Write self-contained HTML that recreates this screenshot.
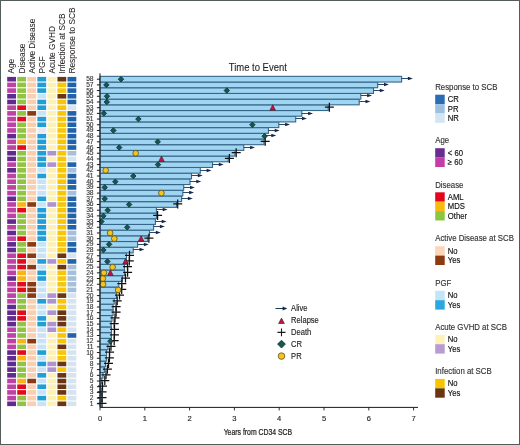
<!DOCTYPE html>
<html><head><meta charset="utf-8"><title>Time to Event</title>
<style>html,body{margin:0;padding:0;background:#fff;}body{width:520px;height:445px;overflow:hidden;font-family:"Liberation Sans",sans-serif;}svg{display:block;will-change:transform;}</style>
</head><body>
<svg width="520" height="445" viewBox="0 0 520 445">
<rect x="0" y="0" width="520" height="445" fill="#ffffff"/>
<rect x="7.20" y="401.51" width="8.8" height="4.6" fill="#62298e"/>
<rect x="17.25" y="401.51" width="8.8" height="4.6" fill="#92c443"/>
<rect x="27.30" y="401.51" width="8.8" height="4.6" fill="#f9cfb2"/>
<rect x="37.35" y="401.51" width="8.8" height="4.6" fill="#c8e3f5"/>
<rect x="47.40" y="401.51" width="8.8" height="4.6" fill="#fcf2b8"/>
<rect x="57.45" y="401.51" width="8.8" height="4.6" fill="#6a3512"/>
<rect x="67.50" y="401.51" width="8.8" height="4.6" fill="#d6e4f1"/>
<rect x="7.20" y="395.82" width="8.8" height="4.6" fill="#bd42a3"/>
<rect x="17.25" y="395.82" width="8.8" height="4.6" fill="#92c443"/>
<rect x="27.30" y="395.82" width="8.8" height="4.6" fill="#f9cfb2"/>
<rect x="37.35" y="395.82" width="8.8" height="4.6" fill="#229dd6"/>
<rect x="47.40" y="395.82" width="8.8" height="4.6" fill="#fcf2b8"/>
<rect x="57.45" y="395.82" width="8.8" height="4.6" fill="#f7c608"/>
<rect x="67.50" y="395.82" width="8.8" height="4.6" fill="#d6e4f1"/>
<rect x="7.20" y="390.12" width="8.8" height="4.6" fill="#bd42a3"/>
<rect x="17.25" y="390.12" width="8.8" height="4.6" fill="#e20a1c"/>
<rect x="27.30" y="390.12" width="8.8" height="4.6" fill="#f9cfb2"/>
<rect x="37.35" y="390.12" width="8.8" height="4.6" fill="#c8e3f5"/>
<rect x="47.40" y="390.12" width="8.8" height="4.6" fill="#fcf2b8"/>
<rect x="57.45" y="390.12" width="8.8" height="4.6" fill="#6a3512"/>
<rect x="67.50" y="390.12" width="8.8" height="4.6" fill="#d6e4f1"/>
<rect x="7.20" y="384.43" width="8.8" height="4.6" fill="#bd42a3"/>
<rect x="17.25" y="384.43" width="8.8" height="4.6" fill="#e20a1c"/>
<rect x="27.30" y="384.43" width="8.8" height="4.6" fill="#f9cfb2"/>
<rect x="37.35" y="384.43" width="8.8" height="4.6" fill="#229dd6"/>
<rect x="47.40" y="384.43" width="8.8" height="4.6" fill="#fcf2b8"/>
<rect x="57.45" y="384.43" width="8.8" height="4.6" fill="#6a3512"/>
<rect x="67.50" y="384.43" width="8.8" height="4.6" fill="#d6e4f1"/>
<rect x="7.20" y="378.74" width="8.8" height="4.6" fill="#bd42a3"/>
<rect x="17.25" y="378.74" width="8.8" height="4.6" fill="#fab514"/>
<rect x="27.30" y="378.74" width="8.8" height="4.6" fill="#8a3a12"/>
<rect x="37.35" y="378.74" width="8.8" height="4.6" fill="#c8e3f5"/>
<rect x="47.40" y="378.74" width="8.8" height="4.6" fill="#fcf2b8"/>
<rect x="57.45" y="378.74" width="8.8" height="4.6" fill="#6a3512"/>
<rect x="67.50" y="378.74" width="8.8" height="4.6" fill="#d6e4f1"/>
<rect x="7.20" y="373.04" width="8.8" height="4.6" fill="#62298e"/>
<rect x="17.25" y="373.04" width="8.8" height="4.6" fill="#92c443"/>
<rect x="27.30" y="373.04" width="8.8" height="4.6" fill="#f9cfb2"/>
<rect x="37.35" y="373.04" width="8.8" height="4.6" fill="#229dd6"/>
<rect x="47.40" y="373.04" width="8.8" height="4.6" fill="#fcf2b8"/>
<rect x="57.45" y="373.04" width="8.8" height="4.6" fill="#6a3512"/>
<rect x="67.50" y="373.04" width="8.8" height="4.6" fill="#d6e4f1"/>
<rect x="7.20" y="367.34" width="8.8" height="4.6" fill="#62298e"/>
<rect x="17.25" y="367.34" width="8.8" height="4.6" fill="#92c443"/>
<rect x="27.30" y="367.34" width="8.8" height="4.6" fill="#f9cfb2"/>
<rect x="37.35" y="367.34" width="8.8" height="4.6" fill="#c8e3f5"/>
<rect x="47.40" y="367.34" width="8.8" height="4.6" fill="#ad94d0"/>
<rect x="57.45" y="367.34" width="8.8" height="4.6" fill="#f7c608"/>
<rect x="67.50" y="367.34" width="8.8" height="4.6" fill="#d6e4f1"/>
<rect x="7.20" y="361.65" width="8.8" height="4.6" fill="#62298e"/>
<rect x="17.25" y="361.65" width="8.8" height="4.6" fill="#92c443"/>
<rect x="27.30" y="361.65" width="8.8" height="4.6" fill="#f9cfb2"/>
<rect x="37.35" y="361.65" width="8.8" height="4.6" fill="#229dd6"/>
<rect x="47.40" y="361.65" width="8.8" height="4.6" fill="#ad94d0"/>
<rect x="57.45" y="361.65" width="8.8" height="4.6" fill="#6a3512"/>
<rect x="67.50" y="361.65" width="8.8" height="4.6" fill="#d6e4f1"/>
<rect x="7.20" y="355.95" width="8.8" height="4.6" fill="#62298e"/>
<rect x="17.25" y="355.95" width="8.8" height="4.6" fill="#fab514"/>
<rect x="27.30" y="355.95" width="8.8" height="4.6" fill="#f9cfb2"/>
<rect x="37.35" y="355.95" width="8.8" height="4.6" fill="#c8e3f5"/>
<rect x="47.40" y="355.95" width="8.8" height="4.6" fill="#fcf2b8"/>
<rect x="57.45" y="355.95" width="8.8" height="4.6" fill="#f7c608"/>
<rect x="67.50" y="355.95" width="8.8" height="4.6" fill="#d6e4f1"/>
<rect x="7.20" y="350.26" width="8.8" height="4.6" fill="#62298e"/>
<rect x="17.25" y="350.26" width="8.8" height="4.6" fill="#e20a1c"/>
<rect x="27.30" y="350.26" width="8.8" height="4.6" fill="#f9cfb2"/>
<rect x="37.35" y="350.26" width="8.8" height="4.6" fill="#229dd6"/>
<rect x="47.40" y="350.26" width="8.8" height="4.6" fill="#fcf2b8"/>
<rect x="57.45" y="350.26" width="8.8" height="4.6" fill="#f7c608"/>
<rect x="67.50" y="350.26" width="8.8" height="4.6" fill="#d6e4f1"/>
<rect x="7.20" y="344.56" width="8.8" height="4.6" fill="#bd42a3"/>
<rect x="17.25" y="344.56" width="8.8" height="4.6" fill="#92c443"/>
<rect x="27.30" y="344.56" width="8.8" height="4.6" fill="#f9cfb2"/>
<rect x="37.35" y="344.56" width="8.8" height="4.6" fill="#c8e3f5"/>
<rect x="47.40" y="344.56" width="8.8" height="4.6" fill="#fcf2b8"/>
<rect x="57.45" y="344.56" width="8.8" height="4.6" fill="#6a3512"/>
<rect x="67.50" y="344.56" width="8.8" height="4.6" fill="#d6e4f1"/>
<rect x="7.20" y="338.87" width="8.8" height="4.6" fill="#bd42a3"/>
<rect x="17.25" y="338.87" width="8.8" height="4.6" fill="#fab514"/>
<rect x="27.30" y="338.87" width="8.8" height="4.6" fill="#8a3a12"/>
<rect x="37.35" y="338.87" width="8.8" height="4.6" fill="#c8e3f5"/>
<rect x="47.40" y="338.87" width="8.8" height="4.6" fill="#fcf2b8"/>
<rect x="57.45" y="338.87" width="8.8" height="4.6" fill="#f7c608"/>
<rect x="67.50" y="338.87" width="8.8" height="4.6" fill="#d6e4f1"/>
<rect x="7.20" y="333.18" width="8.8" height="4.6" fill="#bd42a3"/>
<rect x="17.25" y="333.18" width="8.8" height="4.6" fill="#92c443"/>
<rect x="27.30" y="333.18" width="8.8" height="4.6" fill="#f9cfb2"/>
<rect x="37.35" y="333.18" width="8.8" height="4.6" fill="#c8e3f5"/>
<rect x="47.40" y="333.18" width="8.8" height="4.6" fill="#fcf2b8"/>
<rect x="57.45" y="333.18" width="8.8" height="4.6" fill="#f7c608"/>
<rect x="67.50" y="333.18" width="8.8" height="4.6" fill="#2163aa"/>
<rect x="7.20" y="327.48" width="8.8" height="4.6" fill="#bd42a3"/>
<rect x="17.25" y="327.48" width="8.8" height="4.6" fill="#92c443"/>
<rect x="27.30" y="327.48" width="8.8" height="4.6" fill="#f9cfb2"/>
<rect x="37.35" y="327.48" width="8.8" height="4.6" fill="#c8e3f5"/>
<rect x="47.40" y="327.48" width="8.8" height="4.6" fill="#ad94d0"/>
<rect x="57.45" y="327.48" width="8.8" height="4.6" fill="#f7c608"/>
<rect x="67.50" y="327.48" width="8.8" height="4.6" fill="#d6e4f1"/>
<rect x="7.20" y="321.79" width="8.8" height="4.6" fill="#62298e"/>
<rect x="17.25" y="321.79" width="8.8" height="4.6" fill="#92c443"/>
<rect x="27.30" y="321.79" width="8.8" height="4.6" fill="#f9cfb2"/>
<rect x="37.35" y="321.79" width="8.8" height="4.6" fill="#229dd6"/>
<rect x="47.40" y="321.79" width="8.8" height="4.6" fill="#ad94d0"/>
<rect x="57.45" y="321.79" width="8.8" height="4.6" fill="#6a3512"/>
<rect x="67.50" y="321.79" width="8.8" height="4.6" fill="#d6e4f1"/>
<rect x="7.20" y="316.09" width="8.8" height="4.6" fill="#62298e"/>
<rect x="17.25" y="316.09" width="8.8" height="4.6" fill="#e20a1c"/>
<rect x="27.30" y="316.09" width="8.8" height="4.6" fill="#f9cfb2"/>
<rect x="37.35" y="316.09" width="8.8" height="4.6" fill="#229dd6"/>
<rect x="47.40" y="316.09" width="8.8" height="4.6" fill="#fcf2b8"/>
<rect x="57.45" y="316.09" width="8.8" height="4.6" fill="#6a3512"/>
<rect x="67.50" y="316.09" width="8.8" height="4.6" fill="#d6e4f1"/>
<rect x="7.20" y="310.39" width="8.8" height="4.6" fill="#62298e"/>
<rect x="17.25" y="310.39" width="8.8" height="4.6" fill="#e20a1c"/>
<rect x="27.30" y="310.39" width="8.8" height="4.6" fill="#f9cfb2"/>
<rect x="37.35" y="310.39" width="8.8" height="4.6" fill="#c8e3f5"/>
<rect x="47.40" y="310.39" width="8.8" height="4.6" fill="#ad94d0"/>
<rect x="57.45" y="310.39" width="8.8" height="4.6" fill="#6a3512"/>
<rect x="67.50" y="310.39" width="8.8" height="4.6" fill="#d6e4f1"/>
<rect x="7.20" y="304.70" width="8.8" height="4.6" fill="#62298e"/>
<rect x="17.25" y="304.70" width="8.8" height="4.6" fill="#92c443"/>
<rect x="27.30" y="304.70" width="8.8" height="4.6" fill="#f9cfb2"/>
<rect x="37.35" y="304.70" width="8.8" height="4.6" fill="#c8e3f5"/>
<rect x="47.40" y="304.70" width="8.8" height="4.6" fill="#fcf2b8"/>
<rect x="57.45" y="304.70" width="8.8" height="4.6" fill="#f7c608"/>
<rect x="67.50" y="304.70" width="8.8" height="4.6" fill="#d6e4f1"/>
<rect x="7.20" y="299.00" width="8.8" height="4.6" fill="#bd42a3"/>
<rect x="17.25" y="299.00" width="8.8" height="4.6" fill="#92c443"/>
<rect x="27.30" y="299.00" width="8.8" height="4.6" fill="#f9cfb2"/>
<rect x="37.35" y="299.00" width="8.8" height="4.6" fill="#229dd6"/>
<rect x="47.40" y="299.00" width="8.8" height="4.6" fill="#ad94d0"/>
<rect x="57.45" y="299.00" width="8.8" height="4.6" fill="#f7c608"/>
<rect x="67.50" y="299.00" width="8.8" height="4.6" fill="#d6e4f1"/>
<rect x="7.20" y="293.31" width="8.8" height="4.6" fill="#bd42a3"/>
<rect x="17.25" y="293.31" width="8.8" height="4.6" fill="#92c443"/>
<rect x="27.30" y="293.31" width="8.8" height="4.6" fill="#8a3a12"/>
<rect x="37.35" y="293.31" width="8.8" height="4.6" fill="#c8e3f5"/>
<rect x="47.40" y="293.31" width="8.8" height="4.6" fill="#ad94d0"/>
<rect x="57.45" y="293.31" width="8.8" height="4.6" fill="#6a3512"/>
<rect x="67.50" y="293.31" width="8.8" height="4.6" fill="#d6e4f1"/>
<rect x="7.20" y="287.62" width="8.8" height="4.6" fill="#bd42a3"/>
<rect x="17.25" y="287.62" width="8.8" height="4.6" fill="#e20a1c"/>
<rect x="27.30" y="287.62" width="8.8" height="4.6" fill="#8a3a12"/>
<rect x="37.35" y="287.62" width="8.8" height="4.6" fill="#c8e3f5"/>
<rect x="47.40" y="287.62" width="8.8" height="4.6" fill="#fcf2b8"/>
<rect x="57.45" y="287.62" width="8.8" height="4.6" fill="#f7c608"/>
<rect x="67.50" y="287.62" width="8.8" height="4.6" fill="#a6bfda"/>
<rect x="7.20" y="281.92" width="8.8" height="4.6" fill="#bd42a3"/>
<rect x="17.25" y="281.92" width="8.8" height="4.6" fill="#e20a1c"/>
<rect x="27.30" y="281.92" width="8.8" height="4.6" fill="#8a3a12"/>
<rect x="37.35" y="281.92" width="8.8" height="4.6" fill="#c8e3f5"/>
<rect x="47.40" y="281.92" width="8.8" height="4.6" fill="#fcf2b8"/>
<rect x="57.45" y="281.92" width="8.8" height="4.6" fill="#f7c608"/>
<rect x="67.50" y="281.92" width="8.8" height="4.6" fill="#a6bfda"/>
<rect x="7.20" y="276.23" width="8.8" height="4.6" fill="#62298e"/>
<rect x="17.25" y="276.23" width="8.8" height="4.6" fill="#fab514"/>
<rect x="27.30" y="276.23" width="8.8" height="4.6" fill="#f9cfb2"/>
<rect x="37.35" y="276.23" width="8.8" height="4.6" fill="#229dd6"/>
<rect x="47.40" y="276.23" width="8.8" height="4.6" fill="#fcf2b8"/>
<rect x="57.45" y="276.23" width="8.8" height="4.6" fill="#f7c608"/>
<rect x="67.50" y="276.23" width="8.8" height="4.6" fill="#a6bfda"/>
<rect x="7.20" y="270.53" width="8.8" height="4.6" fill="#bd42a3"/>
<rect x="17.25" y="270.53" width="8.8" height="4.6" fill="#fab514"/>
<rect x="27.30" y="270.53" width="8.8" height="4.6" fill="#f9cfb2"/>
<rect x="37.35" y="270.53" width="8.8" height="4.6" fill="#229dd6"/>
<rect x="47.40" y="270.53" width="8.8" height="4.6" fill="#fcf2b8"/>
<rect x="57.45" y="270.53" width="8.8" height="4.6" fill="#f7c608"/>
<rect x="67.50" y="270.53" width="8.8" height="4.6" fill="#a6bfda"/>
<rect x="7.20" y="264.83" width="8.8" height="4.6" fill="#bd42a3"/>
<rect x="17.25" y="264.83" width="8.8" height="4.6" fill="#e20a1c"/>
<rect x="27.30" y="264.83" width="8.8" height="4.6" fill="#8a3a12"/>
<rect x="37.35" y="264.83" width="8.8" height="4.6" fill="#c8e3f5"/>
<rect x="47.40" y="264.83" width="8.8" height="4.6" fill="#fcf2b8"/>
<rect x="57.45" y="264.83" width="8.8" height="4.6" fill="#6a3512"/>
<rect x="67.50" y="264.83" width="8.8" height="4.6" fill="#a6bfda"/>
<rect x="7.20" y="259.14" width="8.8" height="4.6" fill="#bd42a3"/>
<rect x="17.25" y="259.14" width="8.8" height="4.6" fill="#e20a1c"/>
<rect x="27.30" y="259.14" width="8.8" height="4.6" fill="#f9cfb2"/>
<rect x="37.35" y="259.14" width="8.8" height="4.6" fill="#229dd6"/>
<rect x="47.40" y="259.14" width="8.8" height="4.6" fill="#ad94d0"/>
<rect x="57.45" y="259.14" width="8.8" height="4.6" fill="#f7c608"/>
<rect x="67.50" y="259.14" width="8.8" height="4.6" fill="#2163aa"/>
<rect x="7.20" y="253.44" width="8.8" height="4.6" fill="#bd42a3"/>
<rect x="17.25" y="253.44" width="8.8" height="4.6" fill="#e20a1c"/>
<rect x="27.30" y="253.44" width="8.8" height="4.6" fill="#8a3a12"/>
<rect x="37.35" y="253.44" width="8.8" height="4.6" fill="#c8e3f5"/>
<rect x="47.40" y="253.44" width="8.8" height="4.6" fill="#fcf2b8"/>
<rect x="57.45" y="253.44" width="8.8" height="4.6" fill="#6a3512"/>
<rect x="67.50" y="253.44" width="8.8" height="4.6" fill="#d6e4f1"/>
<rect x="7.20" y="247.75" width="8.8" height="4.6" fill="#62298e"/>
<rect x="17.25" y="247.75" width="8.8" height="4.6" fill="#92c443"/>
<rect x="27.30" y="247.75" width="8.8" height="4.6" fill="#f9cfb2"/>
<rect x="37.35" y="247.75" width="8.8" height="4.6" fill="#c8e3f5"/>
<rect x="47.40" y="247.75" width="8.8" height="4.6" fill="#fcf2b8"/>
<rect x="57.45" y="247.75" width="8.8" height="4.6" fill="#f7c608"/>
<rect x="67.50" y="247.75" width="8.8" height="4.6" fill="#2163aa"/>
<rect x="7.20" y="242.06" width="8.8" height="4.6" fill="#62298e"/>
<rect x="17.25" y="242.06" width="8.8" height="4.6" fill="#92c443"/>
<rect x="27.30" y="242.06" width="8.8" height="4.6" fill="#8a3a12"/>
<rect x="37.35" y="242.06" width="8.8" height="4.6" fill="#c8e3f5"/>
<rect x="47.40" y="242.06" width="8.8" height="4.6" fill="#fcf2b8"/>
<rect x="57.45" y="242.06" width="8.8" height="4.6" fill="#f7c608"/>
<rect x="67.50" y="242.06" width="8.8" height="4.6" fill="#2163aa"/>
<rect x="7.20" y="236.36" width="8.8" height="4.6" fill="#bd42a3"/>
<rect x="17.25" y="236.36" width="8.8" height="4.6" fill="#e20a1c"/>
<rect x="27.30" y="236.36" width="8.8" height="4.6" fill="#f9cfb2"/>
<rect x="37.35" y="236.36" width="8.8" height="4.6" fill="#229dd6"/>
<rect x="47.40" y="236.36" width="8.8" height="4.6" fill="#fcf2b8"/>
<rect x="57.45" y="236.36" width="8.8" height="4.6" fill="#f7c608"/>
<rect x="67.50" y="236.36" width="8.8" height="4.6" fill="#a6bfda"/>
<rect x="7.20" y="230.67" width="8.8" height="4.6" fill="#62298e"/>
<rect x="17.25" y="230.67" width="8.8" height="4.6" fill="#92c443"/>
<rect x="27.30" y="230.67" width="8.8" height="4.6" fill="#f9cfb2"/>
<rect x="37.35" y="230.67" width="8.8" height="4.6" fill="#229dd6"/>
<rect x="47.40" y="230.67" width="8.8" height="4.6" fill="#fcf2b8"/>
<rect x="57.45" y="230.67" width="8.8" height="4.6" fill="#f7c608"/>
<rect x="67.50" y="230.67" width="8.8" height="4.6" fill="#a6bfda"/>
<rect x="7.20" y="224.97" width="8.8" height="4.6" fill="#bd42a3"/>
<rect x="17.25" y="224.97" width="8.8" height="4.6" fill="#92c443"/>
<rect x="27.30" y="224.97" width="8.8" height="4.6" fill="#f9cfb2"/>
<rect x="37.35" y="224.97" width="8.8" height="4.6" fill="#229dd6"/>
<rect x="47.40" y="224.97" width="8.8" height="4.6" fill="#fcf2b8"/>
<rect x="57.45" y="224.97" width="8.8" height="4.6" fill="#f7c608"/>
<rect x="67.50" y="224.97" width="8.8" height="4.6" fill="#2163aa"/>
<rect x="7.20" y="219.27" width="8.8" height="4.6" fill="#62298e"/>
<rect x="17.25" y="219.27" width="8.8" height="4.6" fill="#92c443"/>
<rect x="27.30" y="219.27" width="8.8" height="4.6" fill="#f9cfb2"/>
<rect x="37.35" y="219.27" width="8.8" height="4.6" fill="#229dd6"/>
<rect x="47.40" y="219.27" width="8.8" height="4.6" fill="#fcf2b8"/>
<rect x="57.45" y="219.27" width="8.8" height="4.6" fill="#f7c608"/>
<rect x="67.50" y="219.27" width="8.8" height="4.6" fill="#2163aa"/>
<rect x="7.20" y="213.58" width="8.8" height="4.6" fill="#bd42a3"/>
<rect x="17.25" y="213.58" width="8.8" height="4.6" fill="#92c443"/>
<rect x="27.30" y="213.58" width="8.8" height="4.6" fill="#f9cfb2"/>
<rect x="37.35" y="213.58" width="8.8" height="4.6" fill="#229dd6"/>
<rect x="47.40" y="213.58" width="8.8" height="4.6" fill="#fcf2b8"/>
<rect x="57.45" y="213.58" width="8.8" height="4.6" fill="#f7c608"/>
<rect x="67.50" y="213.58" width="8.8" height="4.6" fill="#2163aa"/>
<rect x="7.20" y="207.88" width="8.8" height="4.6" fill="#bd42a3"/>
<rect x="17.25" y="207.88" width="8.8" height="4.6" fill="#e20a1c"/>
<rect x="27.30" y="207.88" width="8.8" height="4.6" fill="#f9cfb2"/>
<rect x="37.35" y="207.88" width="8.8" height="4.6" fill="#229dd6"/>
<rect x="47.40" y="207.88" width="8.8" height="4.6" fill="#fcf2b8"/>
<rect x="57.45" y="207.88" width="8.8" height="4.6" fill="#f7c608"/>
<rect x="67.50" y="207.88" width="8.8" height="4.6" fill="#2163aa"/>
<rect x="7.20" y="202.19" width="8.8" height="4.6" fill="#bd42a3"/>
<rect x="17.25" y="202.19" width="8.8" height="4.6" fill="#fab514"/>
<rect x="27.30" y="202.19" width="8.8" height="4.6" fill="#8a3a12"/>
<rect x="37.35" y="202.19" width="8.8" height="4.6" fill="#c8e3f5"/>
<rect x="47.40" y="202.19" width="8.8" height="4.6" fill="#ad94d0"/>
<rect x="57.45" y="202.19" width="8.8" height="4.6" fill="#f7c608"/>
<rect x="67.50" y="202.19" width="8.8" height="4.6" fill="#2163aa"/>
<rect x="7.20" y="196.50" width="8.8" height="4.6" fill="#62298e"/>
<rect x="17.25" y="196.50" width="8.8" height="4.6" fill="#92c443"/>
<rect x="27.30" y="196.50" width="8.8" height="4.6" fill="#f9cfb2"/>
<rect x="37.35" y="196.50" width="8.8" height="4.6" fill="#229dd6"/>
<rect x="47.40" y="196.50" width="8.8" height="4.6" fill="#fcf2b8"/>
<rect x="57.45" y="196.50" width="8.8" height="4.6" fill="#f7c608"/>
<rect x="67.50" y="196.50" width="8.8" height="4.6" fill="#2163aa"/>
<rect x="7.20" y="190.80" width="8.8" height="4.6" fill="#bd42a3"/>
<rect x="17.25" y="190.80" width="8.8" height="4.6" fill="#92c443"/>
<rect x="27.30" y="190.80" width="8.8" height="4.6" fill="#f9cfb2"/>
<rect x="37.35" y="190.80" width="8.8" height="4.6" fill="#c8e3f5"/>
<rect x="47.40" y="190.80" width="8.8" height="4.6" fill="#fcf2b8"/>
<rect x="57.45" y="190.80" width="8.8" height="4.6" fill="#f7c608"/>
<rect x="67.50" y="190.80" width="8.8" height="4.6" fill="#a6bfda"/>
<rect x="7.20" y="185.11" width="8.8" height="4.6" fill="#bd42a3"/>
<rect x="17.25" y="185.11" width="8.8" height="4.6" fill="#92c443"/>
<rect x="27.30" y="185.11" width="8.8" height="4.6" fill="#f9cfb2"/>
<rect x="37.35" y="185.11" width="8.8" height="4.6" fill="#c8e3f5"/>
<rect x="47.40" y="185.11" width="8.8" height="4.6" fill="#fcf2b8"/>
<rect x="57.45" y="185.11" width="8.8" height="4.6" fill="#f7c608"/>
<rect x="67.50" y="185.11" width="8.8" height="4.6" fill="#2163aa"/>
<rect x="7.20" y="179.41" width="8.8" height="4.6" fill="#bd42a3"/>
<rect x="17.25" y="179.41" width="8.8" height="4.6" fill="#92c443"/>
<rect x="27.30" y="179.41" width="8.8" height="4.6" fill="#f9cfb2"/>
<rect x="37.35" y="179.41" width="8.8" height="4.6" fill="#c8e3f5"/>
<rect x="47.40" y="179.41" width="8.8" height="4.6" fill="#fcf2b8"/>
<rect x="57.45" y="179.41" width="8.8" height="4.6" fill="#f7c608"/>
<rect x="67.50" y="179.41" width="8.8" height="4.6" fill="#2163aa"/>
<rect x="7.20" y="173.71" width="8.8" height="4.6" fill="#bd42a3"/>
<rect x="17.25" y="173.71" width="8.8" height="4.6" fill="#92c443"/>
<rect x="27.30" y="173.71" width="8.8" height="4.6" fill="#f9cfb2"/>
<rect x="37.35" y="173.71" width="8.8" height="4.6" fill="#229dd6"/>
<rect x="47.40" y="173.71" width="8.8" height="4.6" fill="#fcf2b8"/>
<rect x="57.45" y="173.71" width="8.8" height="4.6" fill="#f7c608"/>
<rect x="67.50" y="173.71" width="8.8" height="4.6" fill="#2163aa"/>
<rect x="7.20" y="168.02" width="8.8" height="4.6" fill="#62298e"/>
<rect x="17.25" y="168.02" width="8.8" height="4.6" fill="#92c443"/>
<rect x="27.30" y="168.02" width="8.8" height="4.6" fill="#f9cfb2"/>
<rect x="37.35" y="168.02" width="8.8" height="4.6" fill="#c8e3f5"/>
<rect x="47.40" y="168.02" width="8.8" height="4.6" fill="#fcf2b8"/>
<rect x="57.45" y="168.02" width="8.8" height="4.6" fill="#f7c608"/>
<rect x="67.50" y="168.02" width="8.8" height="4.6" fill="#a6bfda"/>
<rect x="7.20" y="162.32" width="8.8" height="4.6" fill="#bd42a3"/>
<rect x="17.25" y="162.32" width="8.8" height="4.6" fill="#92c443"/>
<rect x="27.30" y="162.32" width="8.8" height="4.6" fill="#f9cfb2"/>
<rect x="37.35" y="162.32" width="8.8" height="4.6" fill="#229dd6"/>
<rect x="47.40" y="162.32" width="8.8" height="4.6" fill="#ad94d0"/>
<rect x="57.45" y="162.32" width="8.8" height="4.6" fill="#f7c608"/>
<rect x="67.50" y="162.32" width="8.8" height="4.6" fill="#2163aa"/>
<rect x="7.20" y="156.63" width="8.8" height="4.6" fill="#62298e"/>
<rect x="17.25" y="156.63" width="8.8" height="4.6" fill="#92c443"/>
<rect x="27.30" y="156.63" width="8.8" height="4.6" fill="#f9cfb2"/>
<rect x="37.35" y="156.63" width="8.8" height="4.6" fill="#229dd6"/>
<rect x="47.40" y="156.63" width="8.8" height="4.6" fill="#fcf2b8"/>
<rect x="57.45" y="156.63" width="8.8" height="4.6" fill="#f7c608"/>
<rect x="67.50" y="156.63" width="8.8" height="4.6" fill="#d6e4f1"/>
<rect x="7.20" y="150.94" width="8.8" height="4.6" fill="#62298e"/>
<rect x="17.25" y="150.94" width="8.8" height="4.6" fill="#92c443"/>
<rect x="27.30" y="150.94" width="8.8" height="4.6" fill="#f9cfb2"/>
<rect x="37.35" y="150.94" width="8.8" height="4.6" fill="#229dd6"/>
<rect x="47.40" y="150.94" width="8.8" height="4.6" fill="#ad94d0"/>
<rect x="57.45" y="150.94" width="8.8" height="4.6" fill="#f7c608"/>
<rect x="67.50" y="150.94" width="8.8" height="4.6" fill="#a6bfda"/>
<rect x="7.20" y="145.24" width="8.8" height="4.6" fill="#bd42a3"/>
<rect x="17.25" y="145.24" width="8.8" height="4.6" fill="#e20a1c"/>
<rect x="27.30" y="145.24" width="8.8" height="4.6" fill="#f9cfb2"/>
<rect x="37.35" y="145.24" width="8.8" height="4.6" fill="#229dd6"/>
<rect x="47.40" y="145.24" width="8.8" height="4.6" fill="#fcf2b8"/>
<rect x="57.45" y="145.24" width="8.8" height="4.6" fill="#f7c608"/>
<rect x="67.50" y="145.24" width="8.8" height="4.6" fill="#2163aa"/>
<rect x="7.20" y="139.54" width="8.8" height="4.6" fill="#bd42a3"/>
<rect x="17.25" y="139.54" width="8.8" height="4.6" fill="#fab514"/>
<rect x="27.30" y="139.54" width="8.8" height="4.6" fill="#f9cfb2"/>
<rect x="37.35" y="139.54" width="8.8" height="4.6" fill="#229dd6"/>
<rect x="47.40" y="139.54" width="8.8" height="4.6" fill="#fcf2b8"/>
<rect x="57.45" y="139.54" width="8.8" height="4.6" fill="#f7c608"/>
<rect x="67.50" y="139.54" width="8.8" height="4.6" fill="#2163aa"/>
<rect x="7.20" y="133.85" width="8.8" height="4.6" fill="#62298e"/>
<rect x="17.25" y="133.85" width="8.8" height="4.6" fill="#92c443"/>
<rect x="27.30" y="133.85" width="8.8" height="4.6" fill="#f9cfb2"/>
<rect x="37.35" y="133.85" width="8.8" height="4.6" fill="#229dd6"/>
<rect x="47.40" y="133.85" width="8.8" height="4.6" fill="#fcf2b8"/>
<rect x="57.45" y="133.85" width="8.8" height="4.6" fill="#f7c608"/>
<rect x="67.50" y="133.85" width="8.8" height="4.6" fill="#2163aa"/>
<rect x="7.20" y="128.16" width="8.8" height="4.6" fill="#bd42a3"/>
<rect x="17.25" y="128.16" width="8.8" height="4.6" fill="#92c443"/>
<rect x="27.30" y="128.16" width="8.8" height="4.6" fill="#f9cfb2"/>
<rect x="37.35" y="128.16" width="8.8" height="4.6" fill="#ebe8f0"/>
<rect x="47.40" y="128.16" width="8.8" height="4.6" fill="#fcf2b8"/>
<rect x="57.45" y="128.16" width="8.8" height="4.6" fill="#f7c608"/>
<rect x="67.50" y="128.16" width="8.8" height="4.6" fill="#2163aa"/>
<rect x="7.20" y="122.46" width="8.8" height="4.6" fill="#bd42a3"/>
<rect x="17.25" y="122.46" width="8.8" height="4.6" fill="#92c443"/>
<rect x="27.30" y="122.46" width="8.8" height="4.6" fill="#f9cfb2"/>
<rect x="37.35" y="122.46" width="8.8" height="4.6" fill="#229dd6"/>
<rect x="47.40" y="122.46" width="8.8" height="4.6" fill="#fcf2b8"/>
<rect x="57.45" y="122.46" width="8.8" height="4.6" fill="#f7c608"/>
<rect x="67.50" y="122.46" width="8.8" height="4.6" fill="#2163aa"/>
<rect x="7.20" y="116.77" width="8.8" height="4.6" fill="#bd42a3"/>
<rect x="17.25" y="116.77" width="8.8" height="4.6" fill="#e20a1c"/>
<rect x="27.30" y="116.77" width="8.8" height="4.6" fill="#f9cfb2"/>
<rect x="37.35" y="116.77" width="8.8" height="4.6" fill="#229dd6"/>
<rect x="47.40" y="116.77" width="8.8" height="4.6" fill="#fcf2b8"/>
<rect x="57.45" y="116.77" width="8.8" height="4.6" fill="#f7c608"/>
<rect x="67.50" y="116.77" width="8.8" height="4.6" fill="#2163aa"/>
<rect x="7.20" y="111.07" width="8.8" height="4.6" fill="#bd42a3"/>
<rect x="17.25" y="111.07" width="8.8" height="4.6" fill="#92c443"/>
<rect x="27.30" y="111.07" width="8.8" height="4.6" fill="#8a3a12"/>
<rect x="37.35" y="111.07" width="8.8" height="4.6" fill="#c8e3f5"/>
<rect x="47.40" y="111.07" width="8.8" height="4.6" fill="#fcf2b8"/>
<rect x="57.45" y="111.07" width="8.8" height="4.6" fill="#f7c608"/>
<rect x="67.50" y="111.07" width="8.8" height="4.6" fill="#2163aa"/>
<rect x="7.20" y="105.38" width="8.8" height="4.6" fill="#bd42a3"/>
<rect x="17.25" y="105.38" width="8.8" height="4.6" fill="#e20a1c"/>
<rect x="27.30" y="105.38" width="8.8" height="4.6" fill="#f9cfb2"/>
<rect x="37.35" y="105.38" width="8.8" height="4.6" fill="#229dd6"/>
<rect x="47.40" y="105.38" width="8.8" height="4.6" fill="#fcf2b8"/>
<rect x="57.45" y="105.38" width="8.8" height="4.6" fill="#f7c608"/>
<rect x="67.50" y="105.38" width="8.8" height="4.6" fill="#d6e4f1"/>
<rect x="7.20" y="99.68" width="8.8" height="4.6" fill="#62298e"/>
<rect x="17.25" y="99.68" width="8.8" height="4.6" fill="#92c443"/>
<rect x="27.30" y="99.68" width="8.8" height="4.6" fill="#f9cfb2"/>
<rect x="37.35" y="99.68" width="8.8" height="4.6" fill="#229dd6"/>
<rect x="47.40" y="99.68" width="8.8" height="4.6" fill="#fcf2b8"/>
<rect x="57.45" y="99.68" width="8.8" height="4.6" fill="#f7c608"/>
<rect x="67.50" y="99.68" width="8.8" height="4.6" fill="#2163aa"/>
<rect x="7.20" y="93.98" width="8.8" height="4.6" fill="#62298e"/>
<rect x="17.25" y="93.98" width="8.8" height="4.6" fill="#92c443"/>
<rect x="27.30" y="93.98" width="8.8" height="4.6" fill="#f9cfb2"/>
<rect x="37.35" y="93.98" width="8.8" height="4.6" fill="#c8e3f5"/>
<rect x="47.40" y="93.98" width="8.8" height="4.6" fill="#fcf2b8"/>
<rect x="57.45" y="93.98" width="8.8" height="4.6" fill="#6a3512"/>
<rect x="67.50" y="93.98" width="8.8" height="4.6" fill="#2163aa"/>
<rect x="7.20" y="88.29" width="8.8" height="4.6" fill="#bd42a3"/>
<rect x="17.25" y="88.29" width="8.8" height="4.6" fill="#92c443"/>
<rect x="27.30" y="88.29" width="8.8" height="4.6" fill="#f9cfb2"/>
<rect x="37.35" y="88.29" width="8.8" height="4.6" fill="#229dd6"/>
<rect x="47.40" y="88.29" width="8.8" height="4.6" fill="#fcf2b8"/>
<rect x="57.45" y="88.29" width="8.8" height="4.6" fill="#f7c608"/>
<rect x="67.50" y="88.29" width="8.8" height="4.6" fill="#2163aa"/>
<rect x="7.20" y="82.60" width="8.8" height="4.6" fill="#bd42a3"/>
<rect x="17.25" y="82.60" width="8.8" height="4.6" fill="#92c443"/>
<rect x="27.30" y="82.60" width="8.8" height="4.6" fill="#f9cfb2"/>
<rect x="37.35" y="82.60" width="8.8" height="4.6" fill="#229dd6"/>
<rect x="47.40" y="82.60" width="8.8" height="4.6" fill="#fcf2b8"/>
<rect x="57.45" y="82.60" width="8.8" height="4.6" fill="#f7c608"/>
<rect x="67.50" y="82.60" width="8.8" height="4.6" fill="#2163aa"/>
<rect x="7.20" y="76.90" width="8.8" height="4.6" fill="#62298e"/>
<rect x="17.25" y="76.90" width="8.8" height="4.6" fill="#92c443"/>
<rect x="27.30" y="76.90" width="8.8" height="4.6" fill="#f9cfb2"/>
<rect x="37.35" y="76.90" width="8.8" height="4.6" fill="#229dd6"/>
<rect x="47.40" y="76.90" width="8.8" height="4.6" fill="#fcf2b8"/>
<rect x="57.45" y="76.90" width="8.8" height="4.6" fill="#6a3512"/>
<rect x="67.50" y="76.90" width="8.8" height="4.6" fill="#2163aa"/>
<text x="14.50" y="73.6" transform="translate(14.50 73.6) rotate(-90) scale(0.935 1) translate(-14.50 -73.6)" font-family="Liberation Sans, sans-serif" font-size="8.9" fill="#231f20" stroke="#231f20" stroke-width="0.06">Age</text>
<text x="24.55" y="73.6" transform="translate(24.55 73.6) rotate(-90) scale(0.935 1) translate(-24.55 -73.6)" font-family="Liberation Sans, sans-serif" font-size="8.9" fill="#231f20" stroke="#231f20" stroke-width="0.06">Disease</text>
<text x="34.60" y="73.6" transform="translate(34.60 73.6) rotate(-90) scale(0.935 1) translate(-34.60 -73.6)" font-family="Liberation Sans, sans-serif" font-size="8.9" fill="#231f20" stroke="#231f20" stroke-width="0.06">Active Disease</text>
<text x="44.65" y="73.6" transform="translate(44.65 73.6) rotate(-90) scale(0.935 1) translate(-44.65 -73.6)" font-family="Liberation Sans, sans-serif" font-size="8.9" fill="#231f20" stroke="#231f20" stroke-width="0.06">PGF</text>
<text x="54.70" y="73.6" transform="translate(54.70 73.6) rotate(-90) scale(0.935 1) translate(-54.70 -73.6)" font-family="Liberation Sans, sans-serif" font-size="8.9" fill="#231f20" stroke="#231f20" stroke-width="0.06">Acute GVHD</text>
<text x="64.75" y="73.6" transform="translate(64.75 73.6) rotate(-90) scale(0.935 1) translate(-64.75 -73.6)" font-family="Liberation Sans, sans-serif" font-size="8.9" fill="#231f20" stroke="#231f20" stroke-width="0.06">Infection at SCB</text>
<text x="74.80" y="73.6" transform="translate(74.80 73.6) rotate(-90) scale(0.935 1) translate(-74.80 -73.6)" font-family="Liberation Sans, sans-serif" font-size="8.9" fill="#231f20" stroke="#231f20" stroke-width="0.06">Response to SCB</text>
<rect x="100.00" y="400.97" width="0.50" height="5.695" fill="#a0d5f2" stroke="#36668a" stroke-width="1.1"/>
<rect x="100.00" y="395.27" width="0.50" height="5.695" fill="#a0d5f2" stroke="#36668a" stroke-width="1.1"/>
<rect x="100.00" y="389.58" width="0.50" height="5.695" fill="#a0d5f2" stroke="#36668a" stroke-width="1.1"/>
<rect x="100.00" y="383.88" width="0.50" height="5.695" fill="#a0d5f2" stroke="#36668a" stroke-width="1.1"/>
<rect x="100.00" y="378.19" width="1.80" height="5.695" fill="#a0d5f2" stroke="#36668a" stroke-width="1.1"/>
<rect x="100.00" y="372.49" width="3.00" height="5.695" fill="#a0d5f2" stroke="#36668a" stroke-width="1.1"/>
<rect x="100.00" y="366.80" width="4.40" height="5.695" fill="#a0d5f2" stroke="#36668a" stroke-width="1.1"/>
<rect x="100.00" y="361.10" width="5.50" height="5.695" fill="#a0d5f2" stroke="#36668a" stroke-width="1.1"/>
<rect x="100.00" y="355.41" width="6.40" height="5.695" fill="#a0d5f2" stroke="#36668a" stroke-width="1.1"/>
<rect x="100.00" y="349.71" width="6.60" height="5.695" fill="#a0d5f2" stroke="#36668a" stroke-width="1.1"/>
<rect x="100.00" y="344.02" width="8.00" height="5.695" fill="#a0d5f2" stroke="#36668a" stroke-width="1.1"/>
<rect x="100.00" y="338.32" width="11.20" height="5.695" fill="#a0d5f2" stroke="#36668a" stroke-width="1.1"/>
<rect x="100.00" y="332.63" width="11.40" height="5.695" fill="#a0d5f2" stroke="#36668a" stroke-width="1.1"/>
<rect x="100.00" y="326.93" width="11.50" height="5.695" fill="#a0d5f2" stroke="#36668a" stroke-width="1.1"/>
<rect x="100.00" y="321.24" width="11.20" height="5.695" fill="#a0d5f2" stroke="#36668a" stroke-width="1.1"/>
<rect x="100.00" y="315.54" width="12.00" height="5.695" fill="#a0d5f2" stroke="#36668a" stroke-width="1.1"/>
<rect x="100.00" y="309.85" width="13.10" height="5.695" fill="#a0d5f2" stroke="#36668a" stroke-width="1.1"/>
<rect x="100.00" y="304.15" width="13.10" height="5.695" fill="#a0d5f2" stroke="#36668a" stroke-width="1.1"/>
<rect x="100.00" y="298.46" width="14.20" height="5.695" fill="#a0d5f2" stroke="#36668a" stroke-width="1.1"/>
<rect x="100.00" y="292.76" width="16.50" height="5.695" fill="#a0d5f2" stroke="#36668a" stroke-width="1.1"/>
<rect x="100.00" y="287.07" width="18.70" height="5.695" fill="#a0d5f2" stroke="#36668a" stroke-width="1.1"/>
<rect x="100.00" y="281.37" width="18.80" height="5.695" fill="#a0d5f2" stroke="#36668a" stroke-width="1.1"/>
<rect x="100.00" y="275.68" width="22.50" height="5.695" fill="#a0d5f2" stroke="#36668a" stroke-width="1.1"/>
<rect x="100.00" y="269.98" width="24.60" height="5.695" fill="#a0d5f2" stroke="#36668a" stroke-width="1.1"/>
<rect x="100.00" y="264.29" width="24.50" height="5.695" fill="#a0d5f2" stroke="#36668a" stroke-width="1.1"/>
<rect x="100.00" y="258.59" width="26.30" height="5.695" fill="#a0d5f2" stroke="#36668a" stroke-width="1.1"/>
<rect x="100.00" y="252.90" width="26.50" height="5.695" fill="#a0d5f2" stroke="#36668a" stroke-width="1.1"/>
<rect x="100.00" y="247.20" width="33.20" height="5.695" fill="#a0d5f2" stroke="#36668a" stroke-width="1.1"/>
<rect x="100.00" y="241.51" width="37.60" height="5.695" fill="#a0d5f2" stroke="#36668a" stroke-width="1.1"/>
<rect x="100.00" y="235.81" width="47.70" height="5.695" fill="#a0d5f2" stroke="#36668a" stroke-width="1.1"/>
<rect x="100.00" y="230.12" width="49.50" height="5.695" fill="#a0d5f2" stroke="#36668a" stroke-width="1.1"/>
<rect x="100.00" y="224.42" width="53.60" height="5.695" fill="#a0d5f2" stroke="#36668a" stroke-width="1.1"/>
<rect x="100.00" y="218.73" width="55.40" height="5.695" fill="#a0d5f2" stroke="#36668a" stroke-width="1.1"/>
<rect x="100.00" y="213.03" width="56.40" height="5.695" fill="#a0d5f2" stroke="#36668a" stroke-width="1.1"/>
<rect x="100.00" y="207.34" width="56.40" height="5.695" fill="#a0d5f2" stroke="#36668a" stroke-width="1.1"/>
<rect x="100.00" y="201.64" width="76.50" height="5.695" fill="#a0d5f2" stroke="#36668a" stroke-width="1.1"/>
<rect x="100.00" y="195.95" width="81.60" height="5.695" fill="#a0d5f2" stroke="#36668a" stroke-width="1.1"/>
<rect x="100.00" y="190.25" width="82.80" height="5.695" fill="#a0d5f2" stroke="#36668a" stroke-width="1.1"/>
<rect x="100.00" y="184.56" width="83.70" height="5.695" fill="#a0d5f2" stroke="#36668a" stroke-width="1.1"/>
<rect x="100.00" y="178.86" width="90.00" height="5.695" fill="#a0d5f2" stroke="#36668a" stroke-width="1.1"/>
<rect x="100.00" y="173.17" width="91.50" height="5.695" fill="#a0d5f2" stroke="#36668a" stroke-width="1.1"/>
<rect x="100.00" y="167.47" width="100.30" height="5.695" fill="#a0d5f2" stroke="#36668a" stroke-width="1.1"/>
<rect x="100.00" y="161.78" width="112.50" height="5.695" fill="#a0d5f2" stroke="#36668a" stroke-width="1.1"/>
<rect x="100.00" y="156.08" width="128.20" height="5.695" fill="#a0d5f2" stroke="#36668a" stroke-width="1.1"/>
<rect x="100.00" y="150.39" width="135.00" height="5.695" fill="#a0d5f2" stroke="#36668a" stroke-width="1.1"/>
<rect x="100.00" y="144.69" width="143.80" height="5.695" fill="#a0d5f2" stroke="#36668a" stroke-width="1.1"/>
<rect x="100.00" y="139.00" width="164.00" height="5.695" fill="#a0d5f2" stroke="#36668a" stroke-width="1.1"/>
<rect x="100.00" y="133.30" width="165.00" height="5.695" fill="#a0d5f2" stroke="#36668a" stroke-width="1.1"/>
<rect x="100.00" y="127.61" width="168.40" height="5.695" fill="#a0d5f2" stroke="#36668a" stroke-width="1.1"/>
<rect x="100.00" y="121.91" width="178.80" height="5.695" fill="#a0d5f2" stroke="#36668a" stroke-width="1.1"/>
<rect x="100.00" y="116.22" width="195.70" height="5.695" fill="#a0d5f2" stroke="#36668a" stroke-width="1.1"/>
<rect x="100.00" y="110.52" width="201.80" height="5.695" fill="#a0d5f2" stroke="#36668a" stroke-width="1.1"/>
<rect x="100.00" y="104.83" width="228.20" height="5.695" fill="#a0d5f2" stroke="#36668a" stroke-width="1.1"/>
<rect x="100.00" y="99.13" width="259.20" height="5.695" fill="#a0d5f2" stroke="#36668a" stroke-width="1.1"/>
<rect x="100.00" y="93.44" width="260.80" height="5.695" fill="#a0d5f2" stroke="#36668a" stroke-width="1.1"/>
<rect x="100.00" y="87.74" width="273.50" height="5.695" fill="#a0d5f2" stroke="#36668a" stroke-width="1.1"/>
<rect x="100.00" y="82.05" width="277.70" height="5.695" fill="#a0d5f2" stroke="#36668a" stroke-width="1.1"/>
<rect x="100.00" y="76.35" width="301.60" height="5.695" fill="#a0d5f2" stroke="#36668a" stroke-width="1.1"/>
<line x1="133.20" y1="249.50" x2="140.20" y2="249.50" stroke="#2c4a68" stroke-width="1"/>
<polygon points="139.50,247.70 144.40,249.50 139.50,251.30" fill="#132848"/>
<line x1="137.60" y1="244.50" x2="144.60" y2="244.50" stroke="#2c4a68" stroke-width="1"/>
<polygon points="143.90,242.70 148.80,244.50 143.90,246.30" fill="#132848"/>
<line x1="149.50" y1="232.50" x2="156.50" y2="232.50" stroke="#2c4a68" stroke-width="1"/>
<polygon points="155.80,230.70 160.70,232.50 155.80,234.30" fill="#132848"/>
<line x1="153.60" y1="226.50" x2="160.60" y2="226.50" stroke="#2c4a68" stroke-width="1"/>
<polygon points="159.90,224.70 164.80,226.50 159.90,228.30" fill="#132848"/>
<line x1="155.40" y1="221.50" x2="162.40" y2="221.50" stroke="#2c4a68" stroke-width="1"/>
<polygon points="161.70,219.70 166.60,221.50 161.70,223.30" fill="#132848"/>
<line x1="156.40" y1="209.50" x2="163.40" y2="209.50" stroke="#2c4a68" stroke-width="1"/>
<polygon points="162.70,207.70 167.60,209.50 162.70,211.30" fill="#132848"/>
<line x1="181.60" y1="198.50" x2="188.60" y2="198.50" stroke="#2c4a68" stroke-width="1"/>
<polygon points="187.90,196.70 192.80,198.50 187.90,200.30" fill="#132848"/>
<line x1="182.80" y1="192.50" x2="189.80" y2="192.50" stroke="#2c4a68" stroke-width="1"/>
<polygon points="189.10,190.70 194.00,192.50 189.10,194.30" fill="#132848"/>
<line x1="183.70" y1="187.50" x2="190.70" y2="187.50" stroke="#2c4a68" stroke-width="1"/>
<polygon points="190.00,185.70 194.90,187.50 190.00,189.30" fill="#132848"/>
<line x1="190.00" y1="181.50" x2="197.00" y2="181.50" stroke="#2c4a68" stroke-width="1"/>
<polygon points="196.30,179.70 201.20,181.50 196.30,183.30" fill="#132848"/>
<line x1="191.50" y1="175.50" x2="198.50" y2="175.50" stroke="#2c4a68" stroke-width="1"/>
<polygon points="197.80,173.70 202.70,175.50 197.80,177.30" fill="#132848"/>
<line x1="200.30" y1="170.50" x2="207.30" y2="170.50" stroke="#2c4a68" stroke-width="1"/>
<polygon points="206.60,168.70 211.50,170.50 206.60,172.30" fill="#132848"/>
<line x1="212.50" y1="164.50" x2="219.50" y2="164.50" stroke="#2c4a68" stroke-width="1"/>
<polygon points="218.80,162.70 223.70,164.50 218.80,166.30" fill="#132848"/>
<line x1="243.80" y1="147.50" x2="250.80" y2="147.50" stroke="#2c4a68" stroke-width="1"/>
<polygon points="250.10,145.70 255.00,147.50 250.10,149.30" fill="#132848"/>
<line x1="265.00" y1="135.50" x2="272.00" y2="135.50" stroke="#2c4a68" stroke-width="1"/>
<polygon points="271.30,133.70 276.20,135.50 271.30,137.30" fill="#132848"/>
<line x1="268.40" y1="130.50" x2="275.40" y2="130.50" stroke="#2c4a68" stroke-width="1"/>
<polygon points="274.70,128.70 279.60,130.50 274.70,132.30" fill="#132848"/>
<line x1="278.80" y1="124.50" x2="285.80" y2="124.50" stroke="#2c4a68" stroke-width="1"/>
<polygon points="285.10,122.70 290.00,124.50 285.10,126.30" fill="#132848"/>
<line x1="295.70" y1="118.50" x2="302.70" y2="118.50" stroke="#2c4a68" stroke-width="1"/>
<polygon points="302.00,116.70 306.90,118.50 302.00,120.30" fill="#132848"/>
<line x1="301.80" y1="113.50" x2="308.80" y2="113.50" stroke="#2c4a68" stroke-width="1"/>
<polygon points="308.10,111.70 313.00,113.50 308.10,115.30" fill="#132848"/>
<line x1="359.20" y1="101.50" x2="366.20" y2="101.50" stroke="#2c4a68" stroke-width="1"/>
<polygon points="365.50,99.70 370.40,101.50 365.50,103.30" fill="#132848"/>
<line x1="360.80" y1="95.50" x2="367.80" y2="95.50" stroke="#2c4a68" stroke-width="1"/>
<polygon points="367.10,93.70 372.00,95.50 367.10,97.30" fill="#132848"/>
<line x1="373.50" y1="90.50" x2="380.50" y2="90.50" stroke="#2c4a68" stroke-width="1"/>
<polygon points="379.80,88.70 384.70,90.50 379.80,92.30" fill="#132848"/>
<line x1="377.70" y1="84.50" x2="384.70" y2="84.50" stroke="#2c4a68" stroke-width="1"/>
<polygon points="384.00,82.70 388.90,84.50 384.00,86.30" fill="#132848"/>
<line x1="401.60" y1="78.50" x2="408.60" y2="78.50" stroke="#2c4a68" stroke-width="1"/>
<polygon points="407.90,76.70 412.80,78.50 407.90,80.30" fill="#132848"/>
<path d="M97.50 403.31H106.50M102.00 398.81V407.81" stroke="#111" stroke-width="1.25" fill="none"/>
<path d="M97.50 397.62H106.50M102.00 393.12V402.12" stroke="#111" stroke-width="1.25" fill="none"/>
<path d="M97.50 391.93H106.50M102.00 387.43V396.43" stroke="#111" stroke-width="1.25" fill="none"/>
<path d="M98.00 386.23H107.00M102.50 381.73V390.73" stroke="#111" stroke-width="1.25" fill="none"/>
<path d="M100.30 380.54H109.30M104.80 376.04V385.04" stroke="#111" stroke-width="1.25" fill="none"/>
<path d="M101.50 374.84H110.50M106.00 370.34V379.34" stroke="#111" stroke-width="1.25" fill="none"/>
<path d="M102.90 369.14H111.90M107.40 364.64V373.64" stroke="#111" stroke-width="1.25" fill="none"/>
<path d="M104.00 363.45H113.00M108.50 358.95V367.95" stroke="#111" stroke-width="1.25" fill="none"/>
<path d="M104.90 357.75H113.90M109.40 353.25V362.25" stroke="#111" stroke-width="1.25" fill="none"/>
<path d="M105.10 352.06H114.10M109.60 347.56V356.56" stroke="#111" stroke-width="1.25" fill="none"/>
<path d="M106.50 346.37H115.50M111.00 341.87V350.87" stroke="#111" stroke-width="1.25" fill="none"/>
<path d="M109.70 340.67H118.70M114.20 336.17V345.17" stroke="#111" stroke-width="1.25" fill="none"/>
<path d="M109.90 334.98H118.90M114.40 330.48V339.48" stroke="#111" stroke-width="1.25" fill="none"/>
<path d="M110.00 329.28H119.00M114.50 324.78V333.78" stroke="#111" stroke-width="1.25" fill="none"/>
<path d="M109.70 323.59H118.70M114.20 319.09V328.09" stroke="#111" stroke-width="1.25" fill="none"/>
<path d="M110.50 317.89H119.50M115.00 313.39V322.39" stroke="#111" stroke-width="1.25" fill="none"/>
<path d="M111.60 312.19H120.60M116.10 307.69V316.69" stroke="#111" stroke-width="1.25" fill="none"/>
<path d="M111.60 306.50H120.60M116.10 302.00V311.00" stroke="#111" stroke-width="1.25" fill="none"/>
<path d="M112.70 300.81H121.70M117.20 296.31V305.31" stroke="#111" stroke-width="1.25" fill="none"/>
<path d="M115.00 295.11H124.00M119.50 290.61V299.61" stroke="#111" stroke-width="1.25" fill="none"/>
<path d="M117.20 289.42H126.20M121.70 284.92V293.92" stroke="#111" stroke-width="1.25" fill="none"/>
<path d="M117.30 283.72H126.30M121.80 279.22V288.22" stroke="#111" stroke-width="1.25" fill="none"/>
<path d="M121.00 278.03H130.00M125.50 273.53V282.53" stroke="#111" stroke-width="1.25" fill="none"/>
<path d="M123.10 272.33H132.10M127.60 267.83V276.83" stroke="#111" stroke-width="1.25" fill="none"/>
<path d="M123.00 266.63H132.00M127.50 262.13V271.13" stroke="#111" stroke-width="1.25" fill="none"/>
<path d="M124.80 260.94H133.80M129.30 256.44V265.44" stroke="#111" stroke-width="1.25" fill="none"/>
<path d="M125.00 255.25H134.00M129.50 250.75V259.75" stroke="#111" stroke-width="1.25" fill="none"/>
<path d="M144.40 238.16H153.40M148.90 233.66V242.66" stroke="#111" stroke-width="1.25" fill="none"/>
<path d="M153.10 215.38H162.10M157.60 210.88V219.88" stroke="#111" stroke-width="1.25" fill="none"/>
<path d="M173.20 203.99H182.20M177.70 199.49V208.49" stroke="#111" stroke-width="1.25" fill="none"/>
<path d="M224.90 158.43H233.90M229.40 153.93V162.93" stroke="#111" stroke-width="1.25" fill="none"/>
<path d="M231.70 152.74H240.70M236.20 148.24V157.24" stroke="#111" stroke-width="1.25" fill="none"/>
<path d="M260.70 141.34H269.70M265.20 136.84V145.84" stroke="#111" stroke-width="1.25" fill="none"/>
<path d="M324.90 107.18H333.90M329.40 102.68V111.68" stroke="#111" stroke-width="1.25" fill="none"/>
<polygon points="121.00,76.45 123.75,79.20 121.00,81.95 118.25,79.20" fill="#17574f" stroke="#0b2e30" stroke-width="0.8"/>
<polygon points="106.40,82.15 109.15,84.90 106.40,87.65 103.65,84.90" fill="#17574f" stroke="#0b2e30" stroke-width="0.8"/>
<polygon points="226.80,87.84 229.55,90.59 226.80,93.34 224.05,90.59" fill="#17574f" stroke="#0b2e30" stroke-width="0.8"/>
<polygon points="107.00,93.53 109.75,96.28 107.00,99.03 104.25,96.28" fill="#17574f" stroke="#0b2e30" stroke-width="0.8"/>
<polygon points="106.80,99.23 109.55,101.98 106.80,104.73 104.05,101.98" fill="#17574f" stroke="#0b2e30" stroke-width="0.8"/>
<polygon points="272.70,104.78 275.45,110.18 269.95,110.18" fill="#c2153f" stroke="#4a1020" stroke-width="0.6"/>
<polygon points="103.80,110.62 106.55,113.37 103.80,116.12 101.05,113.37" fill="#17574f" stroke="#0b2e30" stroke-width="0.8"/>
<polygon points="138.40,116.31 141.15,119.06 138.40,121.81 135.65,119.06" fill="#17574f" stroke="#0b2e30" stroke-width="0.8"/>
<polygon points="252.40,122.01 255.15,124.76 252.40,127.51 249.65,124.76" fill="#17574f" stroke="#0b2e30" stroke-width="0.8"/>
<polygon points="113.40,127.71 116.15,130.46 113.40,133.21 110.65,130.46" fill="#17574f" stroke="#0b2e30" stroke-width="0.8"/>
<polygon points="264.60,133.40 267.35,136.15 264.60,138.90 261.85,136.15" fill="#17574f" stroke="#0b2e30" stroke-width="0.8"/>
<polygon points="157.70,139.09 160.45,141.84 157.70,144.59 154.95,141.84" fill="#17574f" stroke="#0b2e30" stroke-width="0.8"/>
<polygon points="119.20,144.79 121.95,147.54 119.20,150.29 116.45,147.54" fill="#17574f" stroke="#0b2e30" stroke-width="0.8"/>
<circle cx="135.70" cy="153.24" r="2.85" fill="#f6c51b" stroke="#5a5020" stroke-width="0.8"/>
<polygon points="161.50,156.03 164.25,161.43 158.75,161.43" fill="#c2153f" stroke="#4a1020" stroke-width="0.6"/>
<polygon points="158.00,161.88 160.75,164.62 158.00,167.38 155.25,164.62" fill="#17574f" stroke="#0b2e30" stroke-width="0.8"/>
<circle cx="105.70" cy="170.32" r="2.85" fill="#f6c51b" stroke="#5a5020" stroke-width="0.8"/>
<polygon points="133.30,173.26 136.05,176.01 133.30,178.76 130.55,176.01" fill="#17574f" stroke="#0b2e30" stroke-width="0.8"/>
<polygon points="115.30,178.96 118.05,181.71 115.30,184.46 112.55,181.71" fill="#17574f" stroke="#0b2e30" stroke-width="0.8"/>
<polygon points="104.70,184.66 107.45,187.41 104.70,190.16 101.95,187.41" fill="#17574f" stroke="#0b2e30" stroke-width="0.8"/>
<circle cx="161.40" cy="193.10" r="2.85" fill="#f6c51b" stroke="#5a5020" stroke-width="0.8"/>
<polygon points="104.70,196.05 107.45,198.80 104.70,201.55 101.95,198.80" fill="#17574f" stroke="#0b2e30" stroke-width="0.8"/>
<polygon points="129.10,201.74 131.85,204.49 129.10,207.24 126.35,204.49" fill="#17574f" stroke="#0b2e30" stroke-width="0.8"/>
<polygon points="107.70,207.44 110.45,210.19 107.70,212.94 104.95,210.19" fill="#17574f" stroke="#0b2e30" stroke-width="0.8"/>
<polygon points="103.40,213.13 106.15,215.88 103.40,218.63 100.65,215.88" fill="#17574f" stroke="#0b2e30" stroke-width="0.8"/>
<polygon points="101.40,218.82 104.15,221.57 101.40,224.32 98.65,221.57" fill="#17574f" stroke="#0b2e30" stroke-width="0.8"/>
<polygon points="127.20,224.52 129.95,227.27 127.20,230.02 124.45,227.27" fill="#17574f" stroke="#0b2e30" stroke-width="0.8"/>
<circle cx="110.10" cy="232.97" r="2.85" fill="#f6c51b" stroke="#5a5020" stroke-width="0.8"/>
<circle cx="114.30" cy="238.66" r="2.85" fill="#f6c51b" stroke="#5a5020" stroke-width="0.8"/>
<polygon points="141.10,235.76 143.85,241.16 138.35,241.16" fill="#c2153f" stroke="#4a1020" stroke-width="0.6"/>
<polygon points="109.10,241.61 111.85,244.36 109.10,247.11 106.35,244.36" fill="#17574f" stroke="#0b2e30" stroke-width="0.8"/>
<polygon points="103.40,247.30 106.15,250.05 103.40,252.80 100.65,250.05" fill="#17574f" stroke="#0b2e30" stroke-width="0.8"/>
<polygon points="107.40,258.69 110.15,261.44 107.40,264.19 104.65,261.44" fill="#17574f" stroke="#0b2e30" stroke-width="0.8"/>
<polygon points="125.50,258.54 128.25,263.94 122.75,263.94" fill="#c2153f" stroke="#4a1020" stroke-width="0.6"/>
<circle cx="112.60" cy="267.13" r="2.85" fill="#f6c51b" stroke="#5a5020" stroke-width="0.8"/>
<circle cx="103.90" cy="272.83" r="2.85" fill="#f6c51b" stroke="#5a5020" stroke-width="0.8"/>
<polygon points="110.40,269.93 113.15,275.33 107.65,275.33" fill="#c2153f" stroke="#4a1020" stroke-width="0.6"/>
<circle cx="102.80" cy="278.53" r="2.85" fill="#f6c51b" stroke="#5a5020" stroke-width="0.8"/>
<circle cx="103.00" cy="284.22" r="2.85" fill="#f6c51b" stroke="#5a5020" stroke-width="0.8"/>
<circle cx="118.10" cy="289.92" r="2.85" fill="#f6c51b" stroke="#5a5020" stroke-width="0.8"/>
<polygon points="110.40,338.42 113.15,341.17 110.40,343.92 107.65,341.17" fill="#17574f" stroke="#0b2e30" stroke-width="0.8"/>
<line x1="100" y1="73.3" x2="100" y2="407.4" stroke="#1a1a1a" stroke-width="1"/>
<line x1="100" y1="407.4" x2="418" y2="407.4" stroke="#1a1a1a" stroke-width="1"/>
<line x1="96.9" y1="403.81" x2="100" y2="403.81" stroke="#1a1a1a" stroke-width="1"/>
<text x="93.60" y="405.81" text-anchor="end" transform="translate(93.60 0) scale(1.03 1) translate(-93.60 0)" font-family="Liberation Sans, sans-serif" font-size="6.5" fill="#333" stroke="#333" stroke-width="0.12">1</text>
<line x1="96.9" y1="398.12" x2="100" y2="398.12" stroke="#1a1a1a" stroke-width="1"/>
<text x="93.60" y="400.12" text-anchor="end" transform="translate(93.60 0) scale(1.03 1) translate(-93.60 0)" font-family="Liberation Sans, sans-serif" font-size="6.5" fill="#333" stroke="#333" stroke-width="0.12">2</text>
<line x1="96.9" y1="392.43" x2="100" y2="392.43" stroke="#1a1a1a" stroke-width="1"/>
<text x="93.60" y="394.43" text-anchor="end" transform="translate(93.60 0) scale(1.03 1) translate(-93.60 0)" font-family="Liberation Sans, sans-serif" font-size="6.5" fill="#333" stroke="#333" stroke-width="0.12">3</text>
<line x1="96.9" y1="386.73" x2="100" y2="386.73" stroke="#1a1a1a" stroke-width="1"/>
<text x="93.60" y="388.73" text-anchor="end" transform="translate(93.60 0) scale(1.03 1) translate(-93.60 0)" font-family="Liberation Sans, sans-serif" font-size="6.5" fill="#333" stroke="#333" stroke-width="0.12">4</text>
<line x1="96.9" y1="381.04" x2="100" y2="381.04" stroke="#1a1a1a" stroke-width="1"/>
<text x="93.60" y="383.04" text-anchor="end" transform="translate(93.60 0) scale(1.03 1) translate(-93.60 0)" font-family="Liberation Sans, sans-serif" font-size="6.5" fill="#333" stroke="#333" stroke-width="0.12">5</text>
<line x1="96.9" y1="375.34" x2="100" y2="375.34" stroke="#1a1a1a" stroke-width="1"/>
<text x="93.60" y="377.34" text-anchor="end" transform="translate(93.60 0) scale(1.03 1) translate(-93.60 0)" font-family="Liberation Sans, sans-serif" font-size="6.5" fill="#333" stroke="#333" stroke-width="0.12">6</text>
<line x1="96.9" y1="369.64" x2="100" y2="369.64" stroke="#1a1a1a" stroke-width="1"/>
<text x="93.60" y="371.64" text-anchor="end" transform="translate(93.60 0) scale(1.03 1) translate(-93.60 0)" font-family="Liberation Sans, sans-serif" font-size="6.5" fill="#333" stroke="#333" stroke-width="0.12">7</text>
<line x1="96.9" y1="363.95" x2="100" y2="363.95" stroke="#1a1a1a" stroke-width="1"/>
<text x="93.60" y="365.95" text-anchor="end" transform="translate(93.60 0) scale(1.03 1) translate(-93.60 0)" font-family="Liberation Sans, sans-serif" font-size="6.5" fill="#333" stroke="#333" stroke-width="0.12">8</text>
<line x1="96.9" y1="358.25" x2="100" y2="358.25" stroke="#1a1a1a" stroke-width="1"/>
<text x="93.60" y="360.25" text-anchor="end" transform="translate(93.60 0) scale(1.03 1) translate(-93.60 0)" font-family="Liberation Sans, sans-serif" font-size="6.5" fill="#333" stroke="#333" stroke-width="0.12">9</text>
<line x1="96.9" y1="352.56" x2="100" y2="352.56" stroke="#1a1a1a" stroke-width="1"/>
<text x="93.60" y="354.56" text-anchor="end" transform="translate(93.60 0) scale(1.03 1) translate(-93.60 0)" font-family="Liberation Sans, sans-serif" font-size="6.5" fill="#333" stroke="#333" stroke-width="0.12">10</text>
<line x1="96.9" y1="346.87" x2="100" y2="346.87" stroke="#1a1a1a" stroke-width="1"/>
<text x="93.60" y="348.87" text-anchor="end" transform="translate(93.60 0) scale(1.03 1) translate(-93.60 0)" font-family="Liberation Sans, sans-serif" font-size="6.5" fill="#333" stroke="#333" stroke-width="0.12">11</text>
<line x1="96.9" y1="341.17" x2="100" y2="341.17" stroke="#1a1a1a" stroke-width="1"/>
<text x="93.60" y="343.17" text-anchor="end" transform="translate(93.60 0) scale(1.03 1) translate(-93.60 0)" font-family="Liberation Sans, sans-serif" font-size="6.5" fill="#333" stroke="#333" stroke-width="0.12">12</text>
<line x1="96.9" y1="335.48" x2="100" y2="335.48" stroke="#1a1a1a" stroke-width="1"/>
<text x="93.60" y="337.48" text-anchor="end" transform="translate(93.60 0) scale(1.03 1) translate(-93.60 0)" font-family="Liberation Sans, sans-serif" font-size="6.5" fill="#333" stroke="#333" stroke-width="0.12">13</text>
<line x1="96.9" y1="329.78" x2="100" y2="329.78" stroke="#1a1a1a" stroke-width="1"/>
<text x="93.60" y="331.78" text-anchor="end" transform="translate(93.60 0) scale(1.03 1) translate(-93.60 0)" font-family="Liberation Sans, sans-serif" font-size="6.5" fill="#333" stroke="#333" stroke-width="0.12">14</text>
<line x1="96.9" y1="324.09" x2="100" y2="324.09" stroke="#1a1a1a" stroke-width="1"/>
<text x="93.60" y="326.09" text-anchor="end" transform="translate(93.60 0) scale(1.03 1) translate(-93.60 0)" font-family="Liberation Sans, sans-serif" font-size="6.5" fill="#333" stroke="#333" stroke-width="0.12">15</text>
<line x1="96.9" y1="318.39" x2="100" y2="318.39" stroke="#1a1a1a" stroke-width="1"/>
<text x="93.60" y="320.39" text-anchor="end" transform="translate(93.60 0) scale(1.03 1) translate(-93.60 0)" font-family="Liberation Sans, sans-serif" font-size="6.5" fill="#333" stroke="#333" stroke-width="0.12">16</text>
<line x1="96.9" y1="312.69" x2="100" y2="312.69" stroke="#1a1a1a" stroke-width="1"/>
<text x="93.60" y="314.69" text-anchor="end" transform="translate(93.60 0) scale(1.03 1) translate(-93.60 0)" font-family="Liberation Sans, sans-serif" font-size="6.5" fill="#333" stroke="#333" stroke-width="0.12">17</text>
<line x1="96.9" y1="307.00" x2="100" y2="307.00" stroke="#1a1a1a" stroke-width="1"/>
<text x="93.60" y="309.00" text-anchor="end" transform="translate(93.60 0) scale(1.03 1) translate(-93.60 0)" font-family="Liberation Sans, sans-serif" font-size="6.5" fill="#333" stroke="#333" stroke-width="0.12">18</text>
<line x1="96.9" y1="301.31" x2="100" y2="301.31" stroke="#1a1a1a" stroke-width="1"/>
<text x="93.60" y="303.31" text-anchor="end" transform="translate(93.60 0) scale(1.03 1) translate(-93.60 0)" font-family="Liberation Sans, sans-serif" font-size="6.5" fill="#333" stroke="#333" stroke-width="0.12">19</text>
<line x1="96.9" y1="295.61" x2="100" y2="295.61" stroke="#1a1a1a" stroke-width="1"/>
<text x="93.60" y="297.61" text-anchor="end" transform="translate(93.60 0) scale(1.03 1) translate(-93.60 0)" font-family="Liberation Sans, sans-serif" font-size="6.5" fill="#333" stroke="#333" stroke-width="0.12">20</text>
<line x1="96.9" y1="289.92" x2="100" y2="289.92" stroke="#1a1a1a" stroke-width="1"/>
<text x="93.60" y="291.92" text-anchor="end" transform="translate(93.60 0) scale(1.03 1) translate(-93.60 0)" font-family="Liberation Sans, sans-serif" font-size="6.5" fill="#333" stroke="#333" stroke-width="0.12">21</text>
<line x1="96.9" y1="284.22" x2="100" y2="284.22" stroke="#1a1a1a" stroke-width="1"/>
<text x="93.60" y="286.22" text-anchor="end" transform="translate(93.60 0) scale(1.03 1) translate(-93.60 0)" font-family="Liberation Sans, sans-serif" font-size="6.5" fill="#333" stroke="#333" stroke-width="0.12">22</text>
<line x1="96.9" y1="278.53" x2="100" y2="278.53" stroke="#1a1a1a" stroke-width="1"/>
<text x="93.60" y="280.53" text-anchor="end" transform="translate(93.60 0) scale(1.03 1) translate(-93.60 0)" font-family="Liberation Sans, sans-serif" font-size="6.5" fill="#333" stroke="#333" stroke-width="0.12">23</text>
<line x1="96.9" y1="272.83" x2="100" y2="272.83" stroke="#1a1a1a" stroke-width="1"/>
<text x="93.60" y="274.83" text-anchor="end" transform="translate(93.60 0) scale(1.03 1) translate(-93.60 0)" font-family="Liberation Sans, sans-serif" font-size="6.5" fill="#333" stroke="#333" stroke-width="0.12">24</text>
<line x1="96.9" y1="267.13" x2="100" y2="267.13" stroke="#1a1a1a" stroke-width="1"/>
<text x="93.60" y="269.13" text-anchor="end" transform="translate(93.60 0) scale(1.03 1) translate(-93.60 0)" font-family="Liberation Sans, sans-serif" font-size="6.5" fill="#333" stroke="#333" stroke-width="0.12">25</text>
<line x1="96.9" y1="261.44" x2="100" y2="261.44" stroke="#1a1a1a" stroke-width="1"/>
<text x="93.60" y="263.44" text-anchor="end" transform="translate(93.60 0) scale(1.03 1) translate(-93.60 0)" font-family="Liberation Sans, sans-serif" font-size="6.5" fill="#333" stroke="#333" stroke-width="0.12">26</text>
<line x1="96.9" y1="255.75" x2="100" y2="255.75" stroke="#1a1a1a" stroke-width="1"/>
<text x="93.60" y="257.75" text-anchor="end" transform="translate(93.60 0) scale(1.03 1) translate(-93.60 0)" font-family="Liberation Sans, sans-serif" font-size="6.5" fill="#333" stroke="#333" stroke-width="0.12">27</text>
<line x1="96.9" y1="250.05" x2="100" y2="250.05" stroke="#1a1a1a" stroke-width="1"/>
<text x="93.60" y="252.05" text-anchor="end" transform="translate(93.60 0) scale(1.03 1) translate(-93.60 0)" font-family="Liberation Sans, sans-serif" font-size="6.5" fill="#333" stroke="#333" stroke-width="0.12">28</text>
<line x1="96.9" y1="244.36" x2="100" y2="244.36" stroke="#1a1a1a" stroke-width="1"/>
<text x="93.60" y="246.36" text-anchor="end" transform="translate(93.60 0) scale(1.03 1) translate(-93.60 0)" font-family="Liberation Sans, sans-serif" font-size="6.5" fill="#333" stroke="#333" stroke-width="0.12">29</text>
<line x1="96.9" y1="238.66" x2="100" y2="238.66" stroke="#1a1a1a" stroke-width="1"/>
<text x="93.60" y="240.66" text-anchor="end" transform="translate(93.60 0) scale(1.03 1) translate(-93.60 0)" font-family="Liberation Sans, sans-serif" font-size="6.5" fill="#333" stroke="#333" stroke-width="0.12">30</text>
<line x1="96.9" y1="232.97" x2="100" y2="232.97" stroke="#1a1a1a" stroke-width="1"/>
<text x="93.60" y="234.97" text-anchor="end" transform="translate(93.60 0) scale(1.03 1) translate(-93.60 0)" font-family="Liberation Sans, sans-serif" font-size="6.5" fill="#333" stroke="#333" stroke-width="0.12">31</text>
<line x1="96.9" y1="227.27" x2="100" y2="227.27" stroke="#1a1a1a" stroke-width="1"/>
<text x="93.60" y="229.27" text-anchor="end" transform="translate(93.60 0) scale(1.03 1) translate(-93.60 0)" font-family="Liberation Sans, sans-serif" font-size="6.5" fill="#333" stroke="#333" stroke-width="0.12">32</text>
<line x1="96.9" y1="221.57" x2="100" y2="221.57" stroke="#1a1a1a" stroke-width="1"/>
<text x="93.60" y="223.57" text-anchor="end" transform="translate(93.60 0) scale(1.03 1) translate(-93.60 0)" font-family="Liberation Sans, sans-serif" font-size="6.5" fill="#333" stroke="#333" stroke-width="0.12">33</text>
<line x1="96.9" y1="215.88" x2="100" y2="215.88" stroke="#1a1a1a" stroke-width="1"/>
<text x="93.60" y="217.88" text-anchor="end" transform="translate(93.60 0) scale(1.03 1) translate(-93.60 0)" font-family="Liberation Sans, sans-serif" font-size="6.5" fill="#333" stroke="#333" stroke-width="0.12">34</text>
<line x1="96.9" y1="210.19" x2="100" y2="210.19" stroke="#1a1a1a" stroke-width="1"/>
<text x="93.60" y="212.19" text-anchor="end" transform="translate(93.60 0) scale(1.03 1) translate(-93.60 0)" font-family="Liberation Sans, sans-serif" font-size="6.5" fill="#333" stroke="#333" stroke-width="0.12">35</text>
<line x1="96.9" y1="204.49" x2="100" y2="204.49" stroke="#1a1a1a" stroke-width="1"/>
<text x="93.60" y="206.49" text-anchor="end" transform="translate(93.60 0) scale(1.03 1) translate(-93.60 0)" font-family="Liberation Sans, sans-serif" font-size="6.5" fill="#333" stroke="#333" stroke-width="0.12">36</text>
<line x1="96.9" y1="198.80" x2="100" y2="198.80" stroke="#1a1a1a" stroke-width="1"/>
<text x="93.60" y="200.80" text-anchor="end" transform="translate(93.60 0) scale(1.03 1) translate(-93.60 0)" font-family="Liberation Sans, sans-serif" font-size="6.5" fill="#333" stroke="#333" stroke-width="0.12">37</text>
<line x1="96.9" y1="193.10" x2="100" y2="193.10" stroke="#1a1a1a" stroke-width="1"/>
<text x="93.60" y="195.10" text-anchor="end" transform="translate(93.60 0) scale(1.03 1) translate(-93.60 0)" font-family="Liberation Sans, sans-serif" font-size="6.5" fill="#333" stroke="#333" stroke-width="0.12">38</text>
<line x1="96.9" y1="187.41" x2="100" y2="187.41" stroke="#1a1a1a" stroke-width="1"/>
<text x="93.60" y="189.41" text-anchor="end" transform="translate(93.60 0) scale(1.03 1) translate(-93.60 0)" font-family="Liberation Sans, sans-serif" font-size="6.5" fill="#333" stroke="#333" stroke-width="0.12">39</text>
<line x1="96.9" y1="181.71" x2="100" y2="181.71" stroke="#1a1a1a" stroke-width="1"/>
<text x="93.60" y="183.71" text-anchor="end" transform="translate(93.60 0) scale(1.03 1) translate(-93.60 0)" font-family="Liberation Sans, sans-serif" font-size="6.5" fill="#333" stroke="#333" stroke-width="0.12">40</text>
<line x1="96.9" y1="176.01" x2="100" y2="176.01" stroke="#1a1a1a" stroke-width="1"/>
<text x="93.60" y="178.01" text-anchor="end" transform="translate(93.60 0) scale(1.03 1) translate(-93.60 0)" font-family="Liberation Sans, sans-serif" font-size="6.5" fill="#333" stroke="#333" stroke-width="0.12">41</text>
<line x1="96.9" y1="170.32" x2="100" y2="170.32" stroke="#1a1a1a" stroke-width="1"/>
<text x="93.60" y="172.32" text-anchor="end" transform="translate(93.60 0) scale(1.03 1) translate(-93.60 0)" font-family="Liberation Sans, sans-serif" font-size="6.5" fill="#333" stroke="#333" stroke-width="0.12">42</text>
<line x1="96.9" y1="164.62" x2="100" y2="164.62" stroke="#1a1a1a" stroke-width="1"/>
<text x="93.60" y="166.62" text-anchor="end" transform="translate(93.60 0) scale(1.03 1) translate(-93.60 0)" font-family="Liberation Sans, sans-serif" font-size="6.5" fill="#333" stroke="#333" stroke-width="0.12">43</text>
<line x1="96.9" y1="158.93" x2="100" y2="158.93" stroke="#1a1a1a" stroke-width="1"/>
<text x="93.60" y="160.93" text-anchor="end" transform="translate(93.60 0) scale(1.03 1) translate(-93.60 0)" font-family="Liberation Sans, sans-serif" font-size="6.5" fill="#333" stroke="#333" stroke-width="0.12">44</text>
<line x1="96.9" y1="153.24" x2="100" y2="153.24" stroke="#1a1a1a" stroke-width="1"/>
<text x="93.60" y="155.24" text-anchor="end" transform="translate(93.60 0) scale(1.03 1) translate(-93.60 0)" font-family="Liberation Sans, sans-serif" font-size="6.5" fill="#333" stroke="#333" stroke-width="0.12">45</text>
<line x1="96.9" y1="147.54" x2="100" y2="147.54" stroke="#1a1a1a" stroke-width="1"/>
<text x="93.60" y="149.54" text-anchor="end" transform="translate(93.60 0) scale(1.03 1) translate(-93.60 0)" font-family="Liberation Sans, sans-serif" font-size="6.5" fill="#333" stroke="#333" stroke-width="0.12">46</text>
<line x1="96.9" y1="141.84" x2="100" y2="141.84" stroke="#1a1a1a" stroke-width="1"/>
<text x="93.60" y="143.84" text-anchor="end" transform="translate(93.60 0) scale(1.03 1) translate(-93.60 0)" font-family="Liberation Sans, sans-serif" font-size="6.5" fill="#333" stroke="#333" stroke-width="0.12">47</text>
<line x1="96.9" y1="136.15" x2="100" y2="136.15" stroke="#1a1a1a" stroke-width="1"/>
<text x="93.60" y="138.15" text-anchor="end" transform="translate(93.60 0) scale(1.03 1) translate(-93.60 0)" font-family="Liberation Sans, sans-serif" font-size="6.5" fill="#333" stroke="#333" stroke-width="0.12">48</text>
<line x1="96.9" y1="130.46" x2="100" y2="130.46" stroke="#1a1a1a" stroke-width="1"/>
<text x="93.60" y="132.46" text-anchor="end" transform="translate(93.60 0) scale(1.03 1) translate(-93.60 0)" font-family="Liberation Sans, sans-serif" font-size="6.5" fill="#333" stroke="#333" stroke-width="0.12">49</text>
<line x1="96.9" y1="124.76" x2="100" y2="124.76" stroke="#1a1a1a" stroke-width="1"/>
<text x="93.60" y="126.76" text-anchor="end" transform="translate(93.60 0) scale(1.03 1) translate(-93.60 0)" font-family="Liberation Sans, sans-serif" font-size="6.5" fill="#333" stroke="#333" stroke-width="0.12">50</text>
<line x1="96.9" y1="119.06" x2="100" y2="119.06" stroke="#1a1a1a" stroke-width="1"/>
<text x="93.60" y="121.06" text-anchor="end" transform="translate(93.60 0) scale(1.03 1) translate(-93.60 0)" font-family="Liberation Sans, sans-serif" font-size="6.5" fill="#333" stroke="#333" stroke-width="0.12">51</text>
<line x1="96.9" y1="113.37" x2="100" y2="113.37" stroke="#1a1a1a" stroke-width="1"/>
<text x="93.60" y="115.37" text-anchor="end" transform="translate(93.60 0) scale(1.03 1) translate(-93.60 0)" font-family="Liberation Sans, sans-serif" font-size="6.5" fill="#333" stroke="#333" stroke-width="0.12">52</text>
<line x1="96.9" y1="107.68" x2="100" y2="107.68" stroke="#1a1a1a" stroke-width="1"/>
<text x="93.60" y="109.68" text-anchor="end" transform="translate(93.60 0) scale(1.03 1) translate(-93.60 0)" font-family="Liberation Sans, sans-serif" font-size="6.5" fill="#333" stroke="#333" stroke-width="0.12">53</text>
<line x1="96.9" y1="101.98" x2="100" y2="101.98" stroke="#1a1a1a" stroke-width="1"/>
<text x="93.60" y="103.98" text-anchor="end" transform="translate(93.60 0) scale(1.03 1) translate(-93.60 0)" font-family="Liberation Sans, sans-serif" font-size="6.5" fill="#333" stroke="#333" stroke-width="0.12">54</text>
<line x1="96.9" y1="96.28" x2="100" y2="96.28" stroke="#1a1a1a" stroke-width="1"/>
<text x="93.60" y="98.28" text-anchor="end" transform="translate(93.60 0) scale(1.03 1) translate(-93.60 0)" font-family="Liberation Sans, sans-serif" font-size="6.5" fill="#333" stroke="#333" stroke-width="0.12">55</text>
<line x1="96.9" y1="90.59" x2="100" y2="90.59" stroke="#1a1a1a" stroke-width="1"/>
<text x="93.60" y="92.59" text-anchor="end" transform="translate(93.60 0) scale(1.03 1) translate(-93.60 0)" font-family="Liberation Sans, sans-serif" font-size="6.5" fill="#333" stroke="#333" stroke-width="0.12">56</text>
<line x1="96.9" y1="84.90" x2="100" y2="84.90" stroke="#1a1a1a" stroke-width="1"/>
<text x="93.60" y="86.90" text-anchor="end" transform="translate(93.60 0) scale(1.03 1) translate(-93.60 0)" font-family="Liberation Sans, sans-serif" font-size="6.5" fill="#333" stroke="#333" stroke-width="0.12">57</text>
<line x1="96.9" y1="79.20" x2="100" y2="79.20" stroke="#1a1a1a" stroke-width="1"/>
<text x="93.60" y="81.20" text-anchor="end" transform="translate(93.60 0) scale(1.03 1) translate(-93.60 0)" font-family="Liberation Sans, sans-serif" font-size="6.5" fill="#333" stroke="#333" stroke-width="0.12">58</text>
<line x1="100.00" y1="407.4" x2="100.00" y2="410.4" stroke="#1a1a1a" stroke-width="0.9"/>
<text x="100.00" y="421.30" text-anchor="middle" transform="translate(100.00 0) scale(0.95 1) translate(-100.00 0)" font-family="Liberation Sans, sans-serif" font-size="8.0" fill="#231f20" stroke="#231f20" stroke-width="0.15">0</text>
<line x1="144.80" y1="407.4" x2="144.80" y2="410.4" stroke="#1a1a1a" stroke-width="0.9"/>
<text x="144.80" y="421.30" text-anchor="middle" transform="translate(144.80 0) scale(0.95 1) translate(-144.80 0)" font-family="Liberation Sans, sans-serif" font-size="8.0" fill="#231f20" stroke="#231f20" stroke-width="0.15">1</text>
<line x1="189.60" y1="407.4" x2="189.60" y2="410.4" stroke="#1a1a1a" stroke-width="0.9"/>
<text x="189.60" y="421.30" text-anchor="middle" transform="translate(189.60 0) scale(0.95 1) translate(-189.60 0)" font-family="Liberation Sans, sans-serif" font-size="8.0" fill="#231f20" stroke="#231f20" stroke-width="0.15">2</text>
<line x1="234.40" y1="407.4" x2="234.40" y2="410.4" stroke="#1a1a1a" stroke-width="0.9"/>
<text x="234.40" y="421.30" text-anchor="middle" transform="translate(234.40 0) scale(0.95 1) translate(-234.40 0)" font-family="Liberation Sans, sans-serif" font-size="8.0" fill="#231f20" stroke="#231f20" stroke-width="0.15">3</text>
<line x1="279.20" y1="407.4" x2="279.20" y2="410.4" stroke="#1a1a1a" stroke-width="0.9"/>
<text x="279.20" y="421.30" text-anchor="middle" transform="translate(279.20 0) scale(0.95 1) translate(-279.20 0)" font-family="Liberation Sans, sans-serif" font-size="8.0" fill="#231f20" stroke="#231f20" stroke-width="0.15">4</text>
<line x1="324.00" y1="407.4" x2="324.00" y2="410.4" stroke="#1a1a1a" stroke-width="0.9"/>
<text x="324.00" y="421.30" text-anchor="middle" transform="translate(324.00 0) scale(0.95 1) translate(-324.00 0)" font-family="Liberation Sans, sans-serif" font-size="8.0" fill="#231f20" stroke="#231f20" stroke-width="0.15">5</text>
<line x1="368.80" y1="407.4" x2="368.80" y2="410.4" stroke="#1a1a1a" stroke-width="0.9"/>
<text x="368.80" y="421.30" text-anchor="middle" transform="translate(368.80 0) scale(0.95 1) translate(-368.80 0)" font-family="Liberation Sans, sans-serif" font-size="8.0" fill="#231f20" stroke="#231f20" stroke-width="0.15">6</text>
<line x1="413.60" y1="407.4" x2="413.60" y2="410.4" stroke="#1a1a1a" stroke-width="0.9"/>
<text x="413.60" y="421.30" text-anchor="middle" transform="translate(413.60 0) scale(0.95 1) translate(-413.60 0)" font-family="Liberation Sans, sans-serif" font-size="8.0" fill="#231f20" stroke="#231f20" stroke-width="0.15">7</text>
<text x="257.90" y="435.40" text-anchor="middle" transform="translate(257.90 0) scale(0.765 1) translate(-257.90 0)" font-family="Liberation Sans, sans-serif" font-size="9.0" fill="#231f20" stroke="#231f20" stroke-width="0.25">Years from CD34 SCB</text>
<text x="257.80" y="70.80" text-anchor="middle" transform="translate(257.80 0) scale(0.93 1) translate(-257.80 0)" font-family="Liberation Sans, sans-serif" font-size="10.2" fill="#231f20" stroke="#231f20" stroke-width="0.1">Time to Event</text>
<line x1="275.5" y1="308.5" x2="284" y2="308.5" stroke="#1f3a58" stroke-width="1"/>
<polygon points="282.6,306.6 287.3,308.5 282.6,310.4" fill="#132848"/>
<polygon points="281.50,318.10 284.40,323.50 278.60,323.50" fill="#c2153f" stroke="#4a1020" stroke-width="0.6"/>
<path d="M277.5 332.4H285.5M281.5 328.59999999999997V336.2" stroke="#1a1a1a" stroke-width="1.1"/>
<polygon points="281.50,340.20 285.40,344.10 281.50,348.00 277.60,344.10" fill="#17574f" stroke="#0b2e30" stroke-width="0.8"/>
<circle cx="281.50" cy="356.10" r="3.3" fill="#f6c51b" stroke="#5a5020" stroke-width="0.8"/>
<text x="291.10" y="310.80" transform="translate(291.10 0) scale(0.87 1) translate(-291.10 0)" font-family="Liberation Sans, sans-serif" font-size="8.7" fill="#231f20" stroke="#231f20" stroke-width="0.15">Alive</text>
<text x="291.10" y="323.40" transform="translate(291.10 0) scale(0.87 1) translate(-291.10 0)" font-family="Liberation Sans, sans-serif" font-size="8.7" fill="#231f20" stroke="#231f20" stroke-width="0.15">Relapse</text>
<text x="291.10" y="335.10" transform="translate(291.10 0) scale(0.87 1) translate(-291.10 0)" font-family="Liberation Sans, sans-serif" font-size="8.7" fill="#231f20" stroke="#231f20" stroke-width="0.15">Death</text>
<text x="291.10" y="346.80" transform="translate(291.10 0) scale(0.87 1) translate(-291.10 0)" font-family="Liberation Sans, sans-serif" font-size="8.7" fill="#231f20" stroke="#231f20" stroke-width="0.15">CR</text>
<text x="291.10" y="358.80" transform="translate(291.10 0) scale(0.87 1) translate(-291.10 0)" font-family="Liberation Sans, sans-serif" font-size="8.7" fill="#231f20" stroke="#231f20" stroke-width="0.15">PR</text>
<text x="435.20" y="90.00" transform="translate(435.20 0) scale(0.9 1) translate(-435.20 0)" font-family="Liberation Sans, sans-serif" font-size="8.7" fill="#333" stroke="#333" stroke-width="0.15">Response to SCB</text>
<rect x="435.2" y="94.70" width="9.5" height="9.4" fill="#2a6db5"/>
<text x="447.80" y="102.20" transform="translate(447.80 0) scale(0.885 1) translate(-447.80 0)" font-family="Liberation Sans, sans-serif" font-size="8.7" fill="#111" stroke="#111" stroke-width="0.15">CR</text>
<rect x="435.2" y="104.10" width="9.5" height="9.4" fill="#9dc0df"/>
<text x="447.80" y="111.60" transform="translate(447.80 0) scale(0.885 1) translate(-447.80 0)" font-family="Liberation Sans, sans-serif" font-size="8.7" fill="#111" stroke="#111" stroke-width="0.15">PR</text>
<rect x="435.2" y="113.50" width="9.5" height="9.4" fill="#d3e5f2"/>
<text x="447.80" y="121.00" transform="translate(447.80 0) scale(0.885 1) translate(-447.80 0)" font-family="Liberation Sans, sans-serif" font-size="8.7" fill="#111" stroke="#111" stroke-width="0.15">NR</text>
<text x="435.20" y="143.50" transform="translate(435.20 0) scale(0.9 1) translate(-435.20 0)" font-family="Liberation Sans, sans-serif" font-size="8.7" fill="#333" stroke="#333" stroke-width="0.15">Age</text>
<rect x="435.2" y="148.20" width="9.5" height="9.4" fill="#6a2c91"/>
<text x="447.80" y="155.70" transform="translate(447.80 0) scale(0.885 1) translate(-447.80 0)" font-family="Liberation Sans, sans-serif" font-size="8.7" fill="#111" stroke="#111" stroke-width="0.15">&lt; 60</text>
<rect x="435.2" y="157.60" width="9.5" height="9.4" fill="#c23da8"/>
<text x="447.80" y="165.10" transform="translate(447.80 0) scale(0.885 1) translate(-447.80 0)" font-family="Liberation Sans, sans-serif" font-size="8.7" fill="#111" stroke="#111" stroke-width="0.15">&#8805; 60</text>
<text x="435.20" y="187.60" transform="translate(435.20 0) scale(0.9 1) translate(-435.20 0)" font-family="Liberation Sans, sans-serif" font-size="8.7" fill="#333" stroke="#333" stroke-width="0.15">Disease</text>
<rect x="435.2" y="192.30" width="9.5" height="9.4" fill="#e3051b"/>
<text x="447.80" y="199.80" transform="translate(447.80 0) scale(0.885 1) translate(-447.80 0)" font-family="Liberation Sans, sans-serif" font-size="8.7" fill="#111" stroke="#111" stroke-width="0.15">AML</text>
<rect x="435.2" y="201.70" width="9.5" height="9.4" fill="#fbb811"/>
<text x="447.80" y="209.20" transform="translate(447.80 0) scale(0.885 1) translate(-447.80 0)" font-family="Liberation Sans, sans-serif" font-size="8.7" fill="#111" stroke="#111" stroke-width="0.15">MDS</text>
<rect x="435.2" y="211.10" width="9.5" height="9.4" fill="#8cc63f"/>
<text x="447.80" y="218.60" transform="translate(447.80 0) scale(0.885 1) translate(-447.80 0)" font-family="Liberation Sans, sans-serif" font-size="8.7" fill="#111" stroke="#111" stroke-width="0.15">Other</text>
<text x="435.20" y="241.40" transform="translate(435.20 0) scale(0.9 1) translate(-435.20 0)" font-family="Liberation Sans, sans-serif" font-size="8.7" fill="#333" stroke="#333" stroke-width="0.15">Active Disease at SCB</text>
<rect x="435.2" y="246.20" width="9.5" height="9.4" fill="#fdd5b8"/>
<text x="447.80" y="253.70" transform="translate(447.80 0) scale(0.885 1) translate(-447.80 0)" font-family="Liberation Sans, sans-serif" font-size="8.7" fill="#111" stroke="#111" stroke-width="0.15">No</text>
<rect x="435.2" y="255.60" width="9.5" height="9.4" fill="#8c3a10"/>
<text x="447.80" y="263.10" transform="translate(447.80 0) scale(0.885 1) translate(-447.80 0)" font-family="Liberation Sans, sans-serif" font-size="8.7" fill="#111" stroke="#111" stroke-width="0.15">Yes</text>
<text x="435.20" y="285.70" transform="translate(435.20 0) scale(0.9 1) translate(-435.20 0)" font-family="Liberation Sans, sans-serif" font-size="8.7" fill="#333" stroke="#333" stroke-width="0.15">PGF</text>
<rect x="435.2" y="290.80" width="9.5" height="9.4" fill="#c2e6f5"/>
<text x="447.80" y="298.30" transform="translate(447.80 0) scale(0.885 1) translate(-447.80 0)" font-family="Liberation Sans, sans-serif" font-size="8.7" fill="#111" stroke="#111" stroke-width="0.15">No</text>
<rect x="435.2" y="300.20" width="9.5" height="9.4" fill="#29a8e0"/>
<text x="447.80" y="307.70" transform="translate(447.80 0) scale(0.885 1) translate(-447.80 0)" font-family="Liberation Sans, sans-serif" font-size="8.7" fill="#111" stroke="#111" stroke-width="0.15">Yes</text>
<text x="435.20" y="329.90" transform="translate(435.20 0) scale(0.9 1) translate(-435.20 0)" font-family="Liberation Sans, sans-serif" font-size="8.7" fill="#333" stroke="#333" stroke-width="0.15">Acute GVHD at SCB</text>
<rect x="435.2" y="334.80" width="9.5" height="9.4" fill="#fdf3b8"/>
<text x="447.80" y="342.30" transform="translate(447.80 0) scale(0.885 1) translate(-447.80 0)" font-family="Liberation Sans, sans-serif" font-size="8.7" fill="#111" stroke="#111" stroke-width="0.15">No</text>
<rect x="435.2" y="344.20" width="9.5" height="9.4" fill="#b89bd0"/>
<text x="447.80" y="351.70" transform="translate(447.80 0) scale(0.885 1) translate(-447.80 0)" font-family="Liberation Sans, sans-serif" font-size="8.7" fill="#111" stroke="#111" stroke-width="0.15">Yes</text>
<text x="435.20" y="374.10" transform="translate(435.20 0) scale(0.9 1) translate(-435.20 0)" font-family="Liberation Sans, sans-serif" font-size="8.7" fill="#333" stroke="#333" stroke-width="0.15">Infection at SCB</text>
<rect x="435.2" y="378.90" width="9.5" height="9.4" fill="#f7c600"/>
<text x="447.80" y="386.40" transform="translate(447.80 0) scale(0.885 1) translate(-447.80 0)" font-family="Liberation Sans, sans-serif" font-size="8.7" fill="#111" stroke="#111" stroke-width="0.15">No</text>
<rect x="435.2" y="388.30" width="9.5" height="9.4" fill="#6b3510"/>
<text x="447.80" y="395.80" transform="translate(447.80 0) scale(0.885 1) translate(-447.80 0)" font-family="Liberation Sans, sans-serif" font-size="8.7" fill="#111" stroke="#111" stroke-width="0.15">Yes</text>
<rect x="0.5" y="0.5" width="519" height="444" fill="none" stroke="#535b5b" stroke-width="1"/>
</svg>
</body></html>
